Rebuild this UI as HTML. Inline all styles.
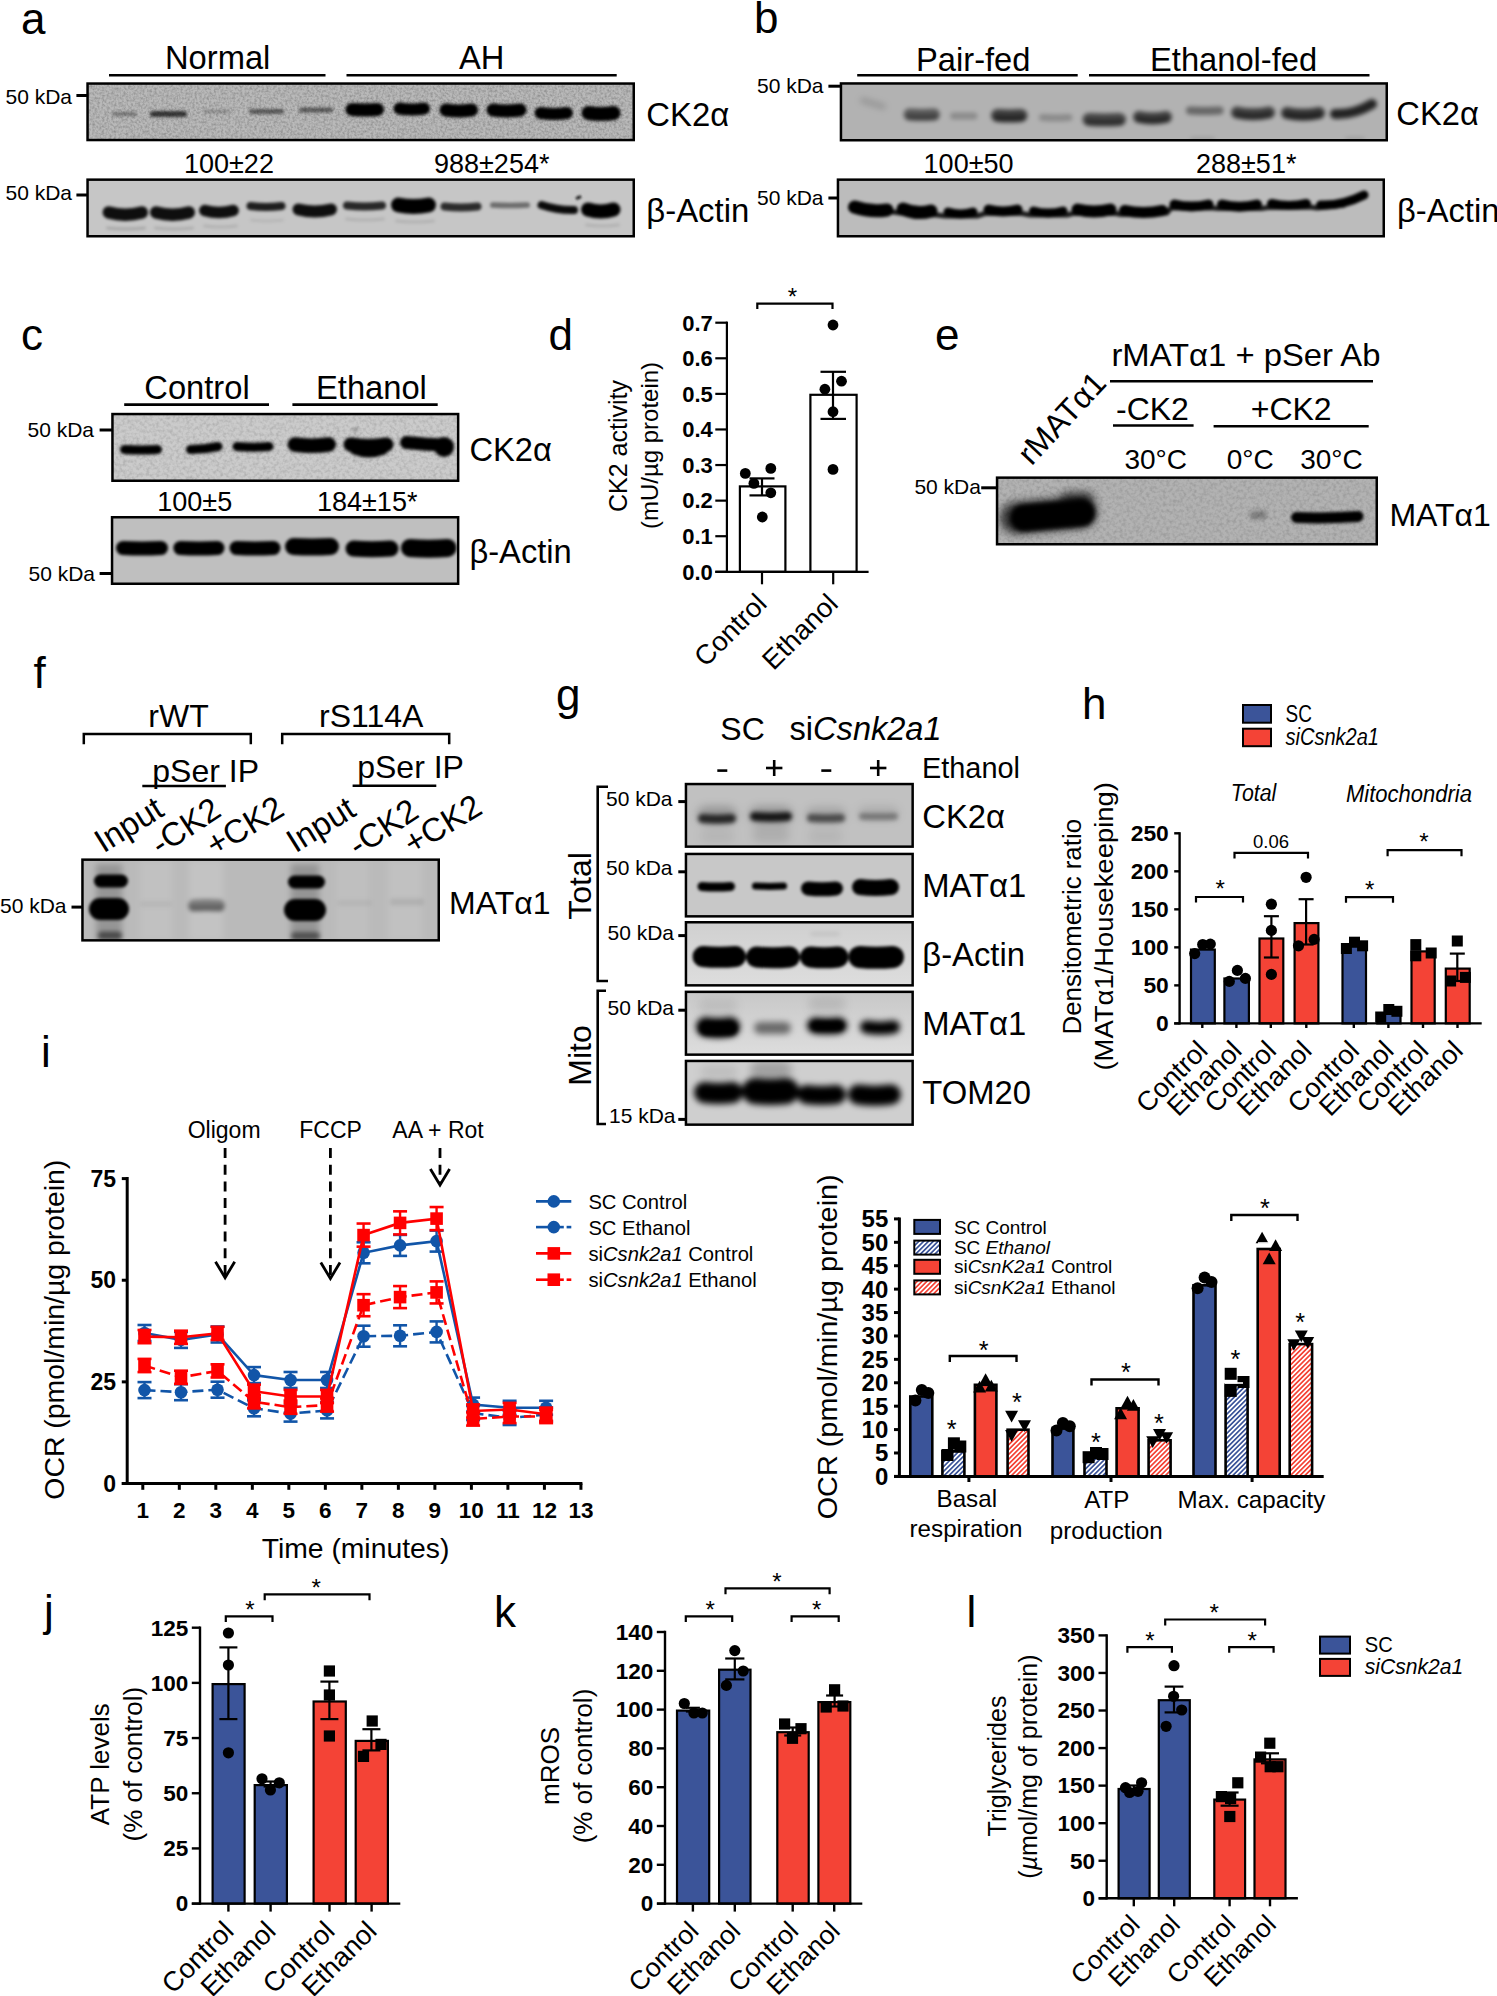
<!DOCTYPE html>
<html><head><meta charset="utf-8"><title>Figure</title>
<style>
html,body{margin:0;padding:0;background:#fff;overflow:hidden;}
svg{display:block;font-family:"Liberation Sans",sans-serif;}
text{fill:#000;}
</style></head><body>
<svg width="1497" height="1996" viewBox="0 0 1497 1996">
<defs>
<filter id="b08" x="-20%" y="-100%" width="140%" height="300%"><feGaussianBlur stdDeviation="0.8"/></filter>
<filter id="b10" x="-20%" y="-100%" width="140%" height="300%"><feGaussianBlur stdDeviation="1.0"/></filter>
<filter id="b16" x="-20%" y="-100%" width="140%" height="300%"><feGaussianBlur stdDeviation="1.6"/></filter>
<filter id="b22" x="-20%" y="-100%" width="140%" height="300%"><feGaussianBlur stdDeviation="2.2"/></filter>
<filter id="b30" x="-30%" y="-150%" width="160%" height="400%"><feGaussianBlur stdDeviation="3.0"/></filter>
<filter id="b40" x="-30%" y="-150%" width="160%" height="400%"><feGaussianBlur stdDeviation="4.0"/></filter>
<filter id="nz" x="0" y="0" width="100%" height="100%"><feTurbulence type="fractalNoise" baseFrequency="0.42" numOctaves="2" seed="3"/><feColorMatrix type="matrix" values="0 0 0 0 0  0 0 0 0 0  0 0 0 0 0  0.42 0 0 0 -0.15"/></filter>
<filter id="nz2" x="0" y="0" width="100%" height="100%"><feTurbulence type="fractalNoise" baseFrequency="0.3" numOctaves="2" seed="7"/><feColorMatrix type="matrix" values="0 0 0 0 0  0 0 0 0 0  0 0 0 0 0  0.28 0 0 0 -0.11"/></filter>
<pattern id="hb" width="3.4" height="3.4" patternUnits="userSpaceOnUse" patternTransform="rotate(-45)"><rect width="3.4" height="3.4" fill="#fff"/><rect width="3.4" height="1.7" fill="#3b5499"/></pattern>
<pattern id="hr" width="3.4" height="3.4" patternUnits="userSpaceOnUse" patternTransform="rotate(-45)"><rect width="3.4" height="3.4" fill="#fff"/><rect width="3.4" height="1.7" fill="#f44336"/></pattern>
<linearGradient id="g3g" x1="0" y1="0" x2="0" y2="1"><stop offset="0" stop-color="#d0d0d0"/><stop offset="1" stop-color="#dddddd"/></linearGradient>
<linearGradient id="g4g" x1="0" y1="0" x2="0" y2="1"><stop offset="0" stop-color="#c8c8c8"/><stop offset="1" stop-color="#dddddd"/></linearGradient>
</defs>
<rect width="1497" height="1996" fill="#fff"/>
<text font-size="44" x="21.00" y="33.50">a</text>
<text font-size="32.7" x="165.00" y="69.00">Normal</text>
<line x1="109.00" y1="75.30" x2="325.50" y2="75.30" stroke="#000" stroke-width="2.6"/>
<text font-size="32.7" x="459.00" y="69.00">AH</text>
<line x1="346.50" y1="75.30" x2="616.70" y2="75.30" stroke="#000" stroke-width="2.6"/>
<text font-size="21" x="5.50" y="103.50">50 kDa</text>
<line x1="76.40" y1="95.50" x2="87.00" y2="95.50" stroke="#000" stroke-width="3"/>
<text font-size="21" x="5.50" y="200.40">50 kDa</text>
<line x1="76.40" y1="195.00" x2="87.00" y2="195.00" stroke="#000" stroke-width="3"/>
<clipPath id="c1"><rect x="87.55" y="83.55" width="546.20" height="56.50"/></clipPath>
<rect x="87.55" y="83.55" width="546.20" height="56.50" fill="#b9b9b9"/>
<g clip-path="url(#c1)">
<filter id="f1_1_6" filterUnits="userSpaceOnUse" x="77.5" y="73.5" width="566.2" height="76.5"><feGaussianBlur stdDeviation="1.6"/></filter>
<g filter="url(#f1_1_6)">
<path d="M114.0,114.0 Q124.5,114.0 135.0,114.0" stroke="#000" stroke-opacity="0.35" stroke-width="4" stroke-linecap="round" fill="none"/>
<path d="M153.0,114.0 Q168.5,114.0 184.0,114.0" stroke="#000" stroke-opacity="0.7" stroke-width="6" stroke-linecap="round" fill="none"/>
<path d="M204.8,111.5 Q216.5,111.5 228.2,111.5" stroke="#000" stroke-opacity="0.22" stroke-width="3.5" stroke-linecap="round" fill="none"/>
<path d="M251.5,111.5 Q266.5,111.5 281.5,111.5" stroke="#000" stroke-opacity="0.5" stroke-width="5" stroke-linecap="round" fill="none"/>
<path d="M301.5,110.0 Q316.0,110.0 330.5,110.0" stroke="#000" stroke-opacity="0.5" stroke-width="5" stroke-linecap="round" fill="none"/>
<path d="M352.0,109.5 Q364.8,110.5 377.5,109.5" stroke="#000" stroke-opacity="1" stroke-width="13" stroke-linecap="round" fill="none"/>
<path d="M399.5,108.5 Q411.8,110.5 424.0,108.5" stroke="#000" stroke-opacity="1" stroke-width="12" stroke-linecap="round" fill="none"/>
<path d="M446.0,110.0 Q458.8,112.0 471.5,110.0" stroke="#000" stroke-opacity="1" stroke-width="13" stroke-linecap="round" fill="none"/>
<path d="M493.0,110.0 Q506.5,112.0 520.0,110.0" stroke="#000" stroke-opacity="1" stroke-width="13" stroke-linecap="round" fill="none"/>
<path d="M540.5,113.0 Q553.8,115.0 567.0,113.0" stroke="#000" stroke-opacity="1" stroke-width="12" stroke-linecap="round" fill="none"/>
<path d="M588.5,113.0 Q601.0,115.0 613.5,113.0" stroke="#000" stroke-opacity="1" stroke-width="14" stroke-linecap="round" fill="none"/>
</g>
<rect x="87.55" y="83.55" width="546.20" height="56.50" filter="url(#nz)"/>
</g>
<rect x="87.55" y="83.55" width="546.20" height="56.50" fill="none" stroke="#000" stroke-width="2.5"/>
<text font-size="27" x="184.00" y="172.80">100±22</text>
<text font-size="27" x="434.00" y="172.80">988±254*</text>
<clipPath id="c2"><rect x="87.55" y="179.65" width="546.20" height="56.60"/></clipPath>
<rect x="87.55" y="179.65" width="546.20" height="56.60" fill="#c6c6c6"/>
<g clip-path="url(#c2)">
<filter id="f2_1_6" filterUnits="userSpaceOnUse" x="77.5" y="169.7" width="566.2" height="76.6"><feGaussianBlur stdDeviation="1.6"/></filter>
<g filter="url(#f2_1_6)">
<path d="M108.8,212.5 Q125.2,216.9 141.8,212.5" stroke="#000" stroke-opacity="0.93" stroke-width="12.5" stroke-linecap="round" fill="none"/>
<path d="M156.2,212.5 Q172.5,216.9 188.8,212.5" stroke="#000" stroke-opacity="0.93" stroke-width="12.5" stroke-linecap="round" fill="none"/>
<path d="M204.8,210.5 Q219.0,214.5 233.2,210.5" stroke="#000" stroke-opacity="0.93" stroke-width="11.5" stroke-linecap="round" fill="none"/>
<path d="M250.5,206.0 Q266.0,208.0 281.5,206.0" stroke="#000" stroke-opacity="0.85" stroke-width="8" stroke-linecap="round" fill="none"/>
<path d="M298.5,209.5 Q314.8,213.5 331.0,209.5" stroke="#000" stroke-opacity="0.93" stroke-width="12" stroke-linecap="round" fill="none"/>
<path d="M347.0,205.5 Q364.5,207.5 382.0,205.5" stroke="#000" stroke-opacity="0.8" stroke-width="8" stroke-linecap="round" fill="none"/>
<path d="M398.5,205.0 Q413.5,208.0 428.5,205.0" stroke="#000" stroke-opacity="1" stroke-width="15" stroke-linecap="round" fill="none"/>
<path d="M444.5,206.5 Q461.0,208.5 477.5,206.5" stroke="#000" stroke-opacity="0.78" stroke-width="8" stroke-linecap="round" fill="none"/>
<path d="M492.8,205.0 Q510.0,206.0 527.2,205.0" stroke="#000" stroke-opacity="0.45" stroke-width="5.5" stroke-linecap="round" fill="none"/>
<path d="M541.5,205.0 Q557.8,210.5 574.0,210.0" stroke="#000" stroke-opacity="0.95" stroke-width="8" stroke-linecap="round" fill="none"/>
<path d="M588.0,209.5 Q600.8,213.5 613.5,209.5" stroke="#000" stroke-opacity="1" stroke-width="14" stroke-linecap="round" fill="none"/>
<path d="M107.5,228.0 Q126.0,230.0 144.5,228.0" stroke="#000" stroke-opacity="0.15" stroke-width="3" stroke-linecap="round" fill="none"/>
<path d="M155.5,228.0 Q174.0,230.0 192.5,228.0" stroke="#000" stroke-opacity="0.12" stroke-width="3" stroke-linecap="round" fill="none"/>
<path d="M204.5,226.0 Q220.5,228.0 236.5,226.0" stroke="#000" stroke-opacity="0.1" stroke-width="3" stroke-linecap="round" fill="none"/>
<path d="M251.5,220.0 Q267.0,222.0 282.5,220.0" stroke="#000" stroke-opacity="0.08" stroke-width="3" stroke-linecap="round" fill="none"/>
<path d="M346.5,219.0 Q365.0,221.0 383.5,219.0" stroke="#000" stroke-opacity="0.1" stroke-width="3" stroke-linecap="round" fill="none"/>
<path d="M396.5,221.0 Q415.0,223.0 433.5,221.0" stroke="#000" stroke-opacity="0.1" stroke-width="3" stroke-linecap="round" fill="none"/>
<path d="M586.5,225.0 Q602.5,227.0 618.5,225.0" stroke="#000" stroke-opacity="0.1" stroke-width="3" stroke-linecap="round" fill="none"/>
</g>
</g>
<rect x="87.55" y="179.65" width="546.20" height="56.60" fill="none" stroke="#000" stroke-width="2.5"/>
<ellipse cx="578.5" cy="197.5" rx="3.2" ry="1.8" fill="#2a2a2a" transform="rotate(-25 578.5 197.5)" filter="url(#b08)"/>
<text font-size="32.9" x="646.30" y="126.00">CK2α</text>
<text font-size="32.9" x="646.30" y="222.20">β-Actin</text>
<text font-size="44" x="754.00" y="33.00">b</text>
<text font-size="32.7" x="916.00" y="71.40">Pair-fed</text>
<line x1="857.20" y1="75.30" x2="1077.70" y2="75.30" stroke="#000" stroke-width="2.6"/>
<text font-size="32.7" x="1150.00" y="71.40">Ethanol-fed</text>
<line x1="1089.00" y1="75.30" x2="1369.50" y2="75.30" stroke="#000" stroke-width="2.6"/>
<text font-size="21" x="757.00" y="93.40">50 kDa</text>
<line x1="828.40" y1="86.20" x2="840.50" y2="86.20" stroke="#000" stroke-width="3"/>
<text font-size="21" x="757.00" y="205.40">50 kDa</text>
<line x1="828.40" y1="198.00" x2="837.50" y2="198.00" stroke="#000" stroke-width="3"/>
<clipPath id="c3"><rect x="840.95" y="83.45" width="545.80" height="56.80"/></clipPath>
<rect x="840.95" y="83.45" width="545.80" height="56.80" fill="#b2b2b2"/>
<g clip-path="url(#c3)">
<filter id="f3_3_0" filterUnits="userSpaceOnUse" x="831.0" y="73.5" width="565.8" height="76.8"><feGaussianBlur stdDeviation="3.0"/></filter>
<g filter="url(#f3_3_0)">
<path d="M863.0,100.5 Q873.0,103.5 883.0,106.5" stroke="#000" stroke-opacity="0.16" stroke-width="6" stroke-linecap="round" fill="none"/>
</g>
<filter id="f3_2_2" filterUnits="userSpaceOnUse" x="831.0" y="73.5" width="565.8" height="76.8"><feGaussianBlur stdDeviation="2.2"/></filter>
<g filter="url(#f3_2_2)">
<path d="M909.5,114.5 Q921.8,115.5 934.0,114.5" stroke="#000" stroke-opacity="0.5" stroke-width="12" stroke-linecap="round" fill="none"/>
<path d="M908.5,117.0 Q922.0,118.0 935.5,117.0" stroke="#000" stroke-opacity="0.3" stroke-width="5" stroke-linecap="round" fill="none"/>
<path d="M953.5,116.0 Q963.8,116.0 974.0,116.0" stroke="#000" stroke-opacity="0.22" stroke-width="7" stroke-linecap="round" fill="none"/>
<path d="M997.5,115.5 Q1009.2,116.5 1021.0,115.5" stroke="#000" stroke-opacity="0.65" stroke-width="13" stroke-linecap="round" fill="none"/>
<path d="M997.0,118.0 Q1009.5,119.0 1022.0,118.0" stroke="#000" stroke-opacity="0.4" stroke-width="6" stroke-linecap="round" fill="none"/>
<path d="M1042.5,117.5 Q1055.8,118.5 1069.0,117.5" stroke="#000" stroke-opacity="0.22" stroke-width="7" stroke-linecap="round" fill="none"/>
<path d="M1089.0,119.5 Q1104.2,120.5 1119.5,119.5" stroke="#000" stroke-opacity="0.6" stroke-width="13" stroke-linecap="round" fill="none"/>
<path d="M1088.0,122.0 Q1104.5,123.0 1121.0,122.0" stroke="#000" stroke-opacity="0.35" stroke-width="6" stroke-linecap="round" fill="none"/>
<path d="M1139.0,117.0 Q1152.5,120.0 1166.0,117.0" stroke="#000" stroke-opacity="0.65" stroke-width="12" stroke-linecap="round" fill="none"/>
<path d="M1138.5,119.5 Q1152.5,122.5 1166.5,119.5" stroke="#000" stroke-opacity="0.4" stroke-width="5" stroke-linecap="round" fill="none"/>
<path d="M1190.0,110.5 Q1204.8,111.5 1219.5,110.5" stroke="#000" stroke-opacity="0.42" stroke-width="8" stroke-linecap="round" fill="none"/>
<path d="M1237.0,112.5 Q1253.0,116.1 1269.0,112.5" stroke="#000" stroke-opacity="0.65" stroke-width="12" stroke-linecap="round" fill="none"/>
<path d="M1236.5,115.0 Q1253.0,118.6 1269.5,115.0" stroke="#000" stroke-opacity="0.4" stroke-width="5" stroke-linecap="round" fill="none"/>
<path d="M1287.0,113.0 Q1303.0,116.6 1319.0,113.0" stroke="#000" stroke-opacity="0.7" stroke-width="12" stroke-linecap="round" fill="none"/>
<path d="M1286.5,115.5 Q1303.0,119.1 1319.5,115.5" stroke="#000" stroke-opacity="0.4" stroke-width="5" stroke-linecap="round" fill="none"/>
<path d="M1335.0,114.0 Q1353.5,115.0 1372.0,104.0" stroke="#000" stroke-opacity="0.8" stroke-width="10" stroke-linecap="round" fill="none"/>
<path d="M1192.0,139.0 Q1202.5,139.0 1213.0,139.0" stroke="#000" stroke-opacity="0.12" stroke-width="4" stroke-linecap="round" fill="none"/>
<path d="M1347.0,139.0 Q1355.0,139.0 1363.0,139.0" stroke="#000" stroke-opacity="0.12" stroke-width="4" stroke-linecap="round" fill="none"/>
</g>
</g>
<rect x="840.95" y="83.45" width="545.80" height="56.80" fill="none" stroke="#000" stroke-width="2.5"/>
<text font-size="27" x="923.60" y="172.80">100±50</text>
<text font-size="27" x="1196.00" y="172.80">288±51*</text>
<clipPath id="c4"><rect x="837.95" y="179.65" width="545.80" height="56.60"/></clipPath>
<rect x="837.95" y="179.65" width="545.80" height="56.60" fill="#bcbcbc"/>
<g clip-path="url(#c4)">
<filter id="f4_1_6" filterUnits="userSpaceOnUse" x="828.0" y="169.7" width="565.8" height="76.6"><feGaussianBlur stdDeviation="1.6"/></filter>
<g filter="url(#f4_1_6)">
<path d="M854.5,207.0 Q870.8,212.5 887.0,210.0" stroke="#000" stroke-opacity="1" stroke-width="13" stroke-linecap="round" fill="none"/>
<path d="M903.0,209.0 Q917.0,215.0 931.0,211.0" stroke="#000" stroke-opacity="1" stroke-width="13" stroke-linecap="round" fill="none"/>
<path d="M948.0,212.0 Q960.5,216.0 973.0,212.0" stroke="#000" stroke-opacity="1" stroke-width="9" stroke-linecap="round" fill="none"/>
<path d="M988.5,209.5 Q1003.0,213.5 1017.5,209.5" stroke="#000" stroke-opacity="1" stroke-width="10" stroke-linecap="round" fill="none"/>
<path d="M1033.5,211.0 Q1048.2,215.0 1063.0,211.0" stroke="#000" stroke-opacity="1" stroke-width="9" stroke-linecap="round" fill="none"/>
<path d="M1077.5,209.5 Q1094.0,213.5 1110.5,209.5" stroke="#000" stroke-opacity="1" stroke-width="12" stroke-linecap="round" fill="none"/>
<path d="M1124.5,210.5 Q1143.5,214.5 1162.5,210.5" stroke="#000" stroke-opacity="1" stroke-width="11" stroke-linecap="round" fill="none"/>
<path d="M1174.5,204.5 Q1191.5,208.5 1208.5,204.5" stroke="#000" stroke-opacity="1" stroke-width="10" stroke-linecap="round" fill="none"/>
<path d="M1222.0,204.5 Q1239.5,208.9 1257.0,204.5" stroke="#000" stroke-opacity="1" stroke-width="10" stroke-linecap="round" fill="none"/>
<path d="M1271.5,203.5 Q1289.0,207.5 1306.5,203.5" stroke="#000" stroke-opacity="1" stroke-width="9" stroke-linecap="round" fill="none"/>
<path d="M1320.5,205.0 Q1342.2,206.0 1364.0,195.0" stroke="#000" stroke-opacity="1" stroke-width="9" stroke-linecap="round" fill="none"/>
<path d="M852,208 L893,212 L900,213 L937,215 L945,216 L977,216 L985,213.5 L1022,213.5 L1030,215 L1067,215 L1073,213.5 L1116,213.5 L1121,214.5 L1167,213 L1171,208 L1213,208 L1218,208.5 L1261,208.5 L1268,207.5 L1310,207 L1317,208 L1345,205" stroke="#000" stroke-opacity=".85" stroke-width="5" fill="none" stroke-linejoin="round"/>
</g>
</g>
<rect x="837.95" y="179.65" width="545.80" height="56.60" fill="none" stroke="#000" stroke-width="2.5"/>
<text font-size="32.7" x="1396.30" y="125.20">CK2α</text>
<text font-size="32.7" x="1397.00" y="222.00">β-Actin</text>
<text font-size="44" x="21.00" y="350.30">c</text>
<text font-size="32.7" x="144.30" y="399.20">Control</text>
<line x1="124.20" y1="404.70" x2="269.00" y2="404.70" stroke="#000" stroke-width="2.8"/>
<text font-size="32.7" x="316.00" y="399.20">Ethanol</text>
<line x1="292.40" y1="404.70" x2="437.70" y2="404.70" stroke="#000" stroke-width="2.8"/>
<text font-size="21" x="27.50" y="436.90">50 kDa</text>
<line x1="99.60" y1="430.00" x2="112.00" y2="430.00" stroke="#000" stroke-width="3"/>
<text font-size="21" x="28.50" y="580.60">50 kDa</text>
<line x1="99.60" y1="573.50" x2="112.00" y2="573.50" stroke="#000" stroke-width="3"/>
<clipPath id="c5"><rect x="112.45" y="414.05" width="345.70" height="66.70"/></clipPath>
<rect x="112.45" y="414.05" width="345.70" height="66.70" fill="#cbcbcb"/>
<g clip-path="url(#c5)">
<filter id="f5_1_6" filterUnits="userSpaceOnUse" x="102.5" y="404.1" width="365.7" height="86.7"><feGaussianBlur stdDeviation="1.6"/></filter>
<g filter="url(#f5_1_6)">
<path d="M124.5,449.5 Q141.0,450.5 157.5,449.5" stroke="#000" stroke-opacity="1" stroke-width="9" stroke-linecap="round" fill="none"/>
<path d="M190.5,449.5 Q204.2,449.6 218.0,446.5" stroke="#000" stroke-opacity="1" stroke-width="9" stroke-linecap="round" fill="none"/>
<path d="M237.0,446.5 Q253.0,448.1 269.0,446.5" stroke="#000" stroke-opacity="1" stroke-width="9" stroke-linecap="round" fill="none"/>
<path d="M294.8,444.5 Q311.8,446.9 328.8,444.5" stroke="#000" stroke-opacity="1" stroke-width="14.5" stroke-linecap="round" fill="none"/>
<path d="M350.5,444.5 Q368.5,447.5 386.5,444.5" stroke="#000" stroke-opacity="1" stroke-width="14" stroke-linecap="round" fill="none"/>
<path d="M356.0,448.0 Q369.0,453.0 382.0,448.0" stroke="#000" stroke-opacity="1" stroke-width="14" stroke-linecap="round" fill="none"/>
<path d="M406.5,442.5 Q426.8,444.9 447.0,445.0" stroke="#000" stroke-opacity="1" stroke-width="13" stroke-linecap="round" fill="none"/>
<path d="M444.0,447.0 Q444.0,447.0 444.0,447.0" stroke="#000" stroke-opacity="1" stroke-width="20" stroke-linecap="round" fill="none"/>
<path d="M354.0,430.0 Q355.2,430.0 356.5,430.0" stroke="#000" stroke-opacity="0.35" stroke-width="3" stroke-linecap="round" fill="none"/>
</g>
<rect x="112.45" y="414.05" width="345.70" height="66.70" filter="url(#nz2)"/>
</g>
<rect x="112.45" y="414.05" width="345.70" height="66.70" fill="none" stroke="#000" stroke-width="2.5"/>
<text font-size="27" x="157.30" y="511.00">100±5</text>
<text font-size="27" x="317.00" y="511.00">184±15*</text>
<clipPath id="c6"><rect x="112.05" y="517.25" width="346.10" height="66.50"/></clipPath>
<rect x="112.05" y="517.25" width="346.10" height="66.50" fill="#bfbfbf"/>
<g clip-path="url(#c6)">
<filter id="f6_1_6" filterUnits="userSpaceOnUse" x="102.0" y="507.2" width="366.1" height="86.5"><feGaussianBlur stdDeviation="1.6"/></filter>
<g filter="url(#f6_1_6)">
<path d="M123.0,548.0 Q142.0,549.0 161.0,548.0" stroke="#000" stroke-opacity="1" stroke-width="14" stroke-linecap="round" fill="none"/>
<path d="M180.3,548.0 Q198.9,549.0 217.5,548.0" stroke="#000" stroke-opacity="1" stroke-width="14" stroke-linecap="round" fill="none"/>
<path d="M236.5,548.0 Q255.0,549.0 273.5,548.0" stroke="#000" stroke-opacity="1" stroke-width="14" stroke-linecap="round" fill="none"/>
<path d="M293.5,546.5 Q312.0,547.5 330.5,546.5" stroke="#000" stroke-opacity="1" stroke-width="17" stroke-linecap="round" fill="none"/>
<path d="M353.5,548.5 Q372.0,550.1 390.5,548.5" stroke="#000" stroke-opacity="1" stroke-width="16" stroke-linecap="round" fill="none"/>
<path d="M410.0,548.0 Q428.8,549.6 447.5,548.0" stroke="#000" stroke-opacity="1" stroke-width="18" stroke-linecap="round" fill="none"/>
</g>
</g>
<rect x="112.05" y="517.25" width="346.10" height="66.50" fill="none" stroke="#000" stroke-width="2.5"/>
<text font-size="32.7" x="469.40" y="460.60">CK2α</text>
<text font-size="32.7" x="469.40" y="562.50">β-Actin</text>
<text font-size="44" x="548.50" y="350.00">d</text>
<rect x="739.90" y="486.40" width="45.50" height="85.40" fill="#fff" stroke="#000" stroke-width="2.2" />
<rect x="810.40" y="394.80" width="46.20" height="177.00" fill="#fff" stroke="#000" stroke-width="2.2" />
<line x1="726.90" y1="321.60" x2="726.90" y2="572.90" stroke="#000" stroke-width="2.2"/>
<line x1="715.30" y1="571.80" x2="868.60" y2="571.80" stroke="#000" stroke-width="2.2"/>
<line x1="715.30" y1="571.80" x2="726.90" y2="571.80" stroke="#000" stroke-width="2.2"/>
<text font-size="22" text-anchor="end" font-weight="bold" x="712.80" y="579.60">0.0</text>
<line x1="715.30" y1="536.21" x2="726.90" y2="536.21" stroke="#000" stroke-width="2.2"/>
<text font-size="22" text-anchor="end" font-weight="bold" x="712.80" y="544.01">0.1</text>
<line x1="715.30" y1="500.63" x2="726.90" y2="500.63" stroke="#000" stroke-width="2.2"/>
<text font-size="22" text-anchor="end" font-weight="bold" x="712.80" y="508.43">0.2</text>
<line x1="715.30" y1="465.04" x2="726.90" y2="465.04" stroke="#000" stroke-width="2.2"/>
<text font-size="22" text-anchor="end" font-weight="bold" x="712.80" y="472.84">0.3</text>
<line x1="715.30" y1="429.46" x2="726.90" y2="429.46" stroke="#000" stroke-width="2.2"/>
<text font-size="22" text-anchor="end" font-weight="bold" x="712.80" y="437.26">0.4</text>
<line x1="715.30" y1="393.87" x2="726.90" y2="393.87" stroke="#000" stroke-width="2.2"/>
<text font-size="22" text-anchor="end" font-weight="bold" x="712.80" y="401.67">0.5</text>
<line x1="715.30" y1="358.29" x2="726.90" y2="358.29" stroke="#000" stroke-width="2.2"/>
<text font-size="22" text-anchor="end" font-weight="bold" x="712.80" y="366.09">0.6</text>
<line x1="715.30" y1="322.70" x2="726.90" y2="322.70" stroke="#000" stroke-width="2.2"/>
<text font-size="22" text-anchor="end" font-weight="bold" x="712.80" y="330.50">0.7</text>
<line x1="762.00" y1="571.80" x2="762.00" y2="584.30" stroke="#000" stroke-width="2.2"/>
<line x1="833.20" y1="571.80" x2="833.20" y2="584.30" stroke="#000" stroke-width="2.2"/>
<line x1="762.00" y1="478.40" x2="762.00" y2="495.40" stroke="#000" stroke-width="2.2"/>
<line x1="749.50" y1="478.40" x2="774.50" y2="478.40" stroke="#000" stroke-width="2.2"/>
<line x1="749.50" y1="495.40" x2="774.50" y2="495.40" stroke="#000" stroke-width="2.2"/>
<line x1="833.00" y1="371.80" x2="833.00" y2="418.90" stroke="#000" stroke-width="2.2"/>
<line x1="820.50" y1="371.80" x2="846.00" y2="371.80" stroke="#000" stroke-width="2.2"/>
<line x1="820.50" y1="418.90" x2="846.00" y2="418.90" stroke="#000" stroke-width="2.2"/>
<circle cx="745.30" cy="473.40" r="5.4" fill="#000"/>
<circle cx="770.80" cy="468.40" r="5.4" fill="#000"/>
<circle cx="753.90" cy="483.40" r="5.4" fill="#000"/>
<circle cx="770.80" cy="492.80" r="5.4" fill="#000"/>
<circle cx="762.30" cy="517.00" r="5.4" fill="#000"/>
<circle cx="833.00" cy="325.00" r="5.4" fill="#000"/>
<circle cx="841.50" cy="381.20" r="5.4" fill="#000"/>
<circle cx="824.90" cy="389.20" r="5.4" fill="#000"/>
<circle cx="833.00" cy="411.70" r="5.4" fill="#000"/>
<circle cx="833.00" cy="469.40" r="5.4" fill="#000"/>
<path d="M757.30,309.10 V303.60 H832.50 V309.10" stroke="#000" stroke-width="2.2" fill="none" />
<text font-size="24.1" text-anchor="middle" x="792.40" y="304.83">*</text>
<text font-size="25" text-anchor="middle" transform="translate(627.00,446.00) rotate(-90)">CK2 activity</text>
<text font-size="24" text-anchor="middle" transform="translate(658.00,445.50) rotate(-90)">(mU/µg protein)</text>
<text font-size="27.5" text-anchor="end" transform="translate(768.30,605.30) rotate(-45)">Control</text>
<text font-size="27.5" text-anchor="end" transform="translate(839.50,605.30) rotate(-45)">Ethanol</text>
<text font-size="44" x="935.00" y="350.00">e</text>
<text font-size="32" textLength="269" lengthAdjust="spacingAndGlyphs" x="1111.40" y="366.00">rMATα1 + pSer Ab</text>
<line x1="1110.00" y1="381.20" x2="1373.00" y2="381.20" stroke="#000" stroke-width="2.6"/>
<text font-size="32" x="1116.00" y="419.60">-CK2</text>
<line x1="1113.00" y1="425.50" x2="1193.60" y2="425.50" stroke="#000" stroke-width="2.6"/>
<text font-size="32" x="1250.70" y="419.80">+CK2</text>
<line x1="1213.60" y1="426.30" x2="1368.70" y2="426.30" stroke="#000" stroke-width="2.6"/>
<text font-size="28" x="1124.40" y="469.30">30°C</text>
<text font-size="28" x="1226.70" y="469.30">0°C</text>
<text font-size="28" x="1300.20" y="469.30">30°C</text>
<text font-size="32" transform="translate(1031.50,466.50) rotate(-47)">rMATα1</text>
<text font-size="21" x="914.40" y="494.40">50 kDa</text>
<line x1="981.20" y1="487.80" x2="996.50" y2="487.80" stroke="#000" stroke-width="3"/>
<clipPath id="c7"><rect x="997.05" y="477.65" width="379.70" height="66.60"/></clipPath>
<rect x="997.05" y="477.65" width="379.70" height="66.60" fill="#b2b2b2"/>
<g clip-path="url(#c7)">
<filter id="f7_4_0" filterUnits="userSpaceOnUse" x="987.0" y="467.6" width="399.7" height="86.6"><feGaussianBlur stdDeviation="4.0"/></filter>
<g filter="url(#f7_4_0)">
<path d="M1016.0,518.0 Q1048.5,515.0 1081.0,512.0" stroke="#000" stroke-opacity="0.7" stroke-width="32" stroke-linecap="round" fill="none"/>
<path d="M1067.0,499.0 Q1077.0,499.0 1087.0,499.0" stroke="#000" stroke-opacity="0.6" stroke-width="14" stroke-linecap="round" fill="none"/>
</g>
<filter id="f7_2_2" filterUnits="userSpaceOnUse" x="987.0" y="467.6" width="399.7" height="86.6"><feGaussianBlur stdDeviation="2.2"/></filter>
<g filter="url(#f7_2_2)">
<path d="M1023.5,518.0 Q1052.5,515.5 1081.5,513.0" stroke="#000" stroke-opacity="1" stroke-width="27" stroke-linecap="round" fill="none"/>
<path d="M1037.0,519.0 Q1060.0,519.0 1083.0,519.0" stroke="#000" stroke-opacity="1" stroke-width="14" stroke-linecap="round" fill="none"/>
<path d="M1254.0,515.0 Q1258.5,515.0 1263.0,515.0" stroke="#000" stroke-opacity="0.3" stroke-width="8" stroke-linecap="round" fill="none"/>
</g>
<filter id="f7_1_6" filterUnits="userSpaceOnUse" x="987.0" y="467.6" width="399.7" height="86.6"><feGaussianBlur stdDeviation="1.6"/></filter>
<g filter="url(#f7_1_6)">
<path d="M1296.5,517.5 Q1327.2,518.6 1358.0,516.5" stroke="#000" stroke-opacity="1" stroke-width="11" stroke-linecap="round" fill="none"/>
</g>
<rect x="997.05" y="477.65" width="379.70" height="66.60" filter="url(#nz2)"/>
</g>
<rect x="997.05" y="477.65" width="379.70" height="66.60" fill="none" stroke="#000" stroke-width="2.5"/>
<text font-size="32" x="1389.40" y="525.50">MATα1</text>
<text font-size="44" x="33.50" y="687.70">f</text>
<text font-size="32" x="148.30" y="727.00">rWT</text>
<path d="M83.8,744.2 V734 H250.8 V744.2" stroke="#000" stroke-width="2.5" fill="none" />
<text font-size="32" x="319.10" y="727.20">rS114A</text>
<path d="M282.2,744.2 V734 H449.2 V744.2" stroke="#000" stroke-width="2.5" fill="none" />
<text font-size="32" x="152.30" y="782.30">pSer IP</text>
<line x1="142.30" y1="785.90" x2="225.90" y2="785.90" stroke="#000" stroke-width="2.5"/>
<text font-size="32" x="357.20" y="777.50">pSer IP</text>
<line x1="352.60" y1="785.70" x2="436.30" y2="785.70" stroke="#000" stroke-width="2.5"/>
<text font-size="33" transform="translate(103.50,853.50) rotate(-32)">Input</text>
<text font-size="33" transform="translate(160.40,856.40) rotate(-33.5)">-CK2</text>
<text font-size="33" transform="translate(214.80,857.10) rotate(-31)">+CK2</text>
<text font-size="33" transform="translate(295.50,853.50) rotate(-32)">Input</text>
<text font-size="33" transform="translate(358.00,857.60) rotate(-33.5)">-CK2</text>
<text font-size="33" transform="translate(412.60,855.60) rotate(-31)">+CK2</text>
<text font-size="21" x="0.00" y="912.50">50 kDa</text>
<line x1="71.50" y1="907.10" x2="82.50" y2="907.10" stroke="#000" stroke-width="3"/>
<clipPath id="c8"><rect x="82.45" y="859.65" width="356.30" height="80.70"/></clipPath>
<rect x="82.45" y="859.65" width="356.30" height="80.70" fill="#bababa"/>
<g clip-path="url(#c8)">
<filter id="f8_3_0" filterUnits="userSpaceOnUse" x="72.5" y="849.6" width="376.3" height="100.7"><feGaussianBlur stdDeviation="3.0"/></filter>
<g filter="url(#f8_3_0)">
<rect x="140.0" y="860" width="32" height="80" fill="#fff" fill-opacity="0.1"/>
<rect x="189.0" y="860" width="34" height="80" fill="#fff" fill-opacity="0.13"/>
<rect x="336.0" y="860" width="32" height="80" fill="#fff" fill-opacity="0.08"/>
<rect x="388.0" y="860" width="34" height="80" fill="#fff" fill-opacity="0.1"/>
<rect x="96.0" y="864" width="26" height="81" fill="#000" fill-opacity="0.2"/>
<rect x="291.0" y="864" width="28" height="81" fill="#000" fill-opacity="0.2"/>
</g>
<filter id="f8_1_6" filterUnits="userSpaceOnUse" x="72.5" y="849.6" width="376.3" height="100.7"><feGaussianBlur stdDeviation="1.6"/></filter>
<g filter="url(#f8_1_6)">
<path d="M100.5,881.0 Q111.0,881.0 121.5,881.0" stroke="#000" stroke-opacity="1" stroke-width="13" stroke-linecap="round" fill="none"/>
<path d="M100.0,909.0 Q109.0,909.0 118.0,909.0" stroke="#000" stroke-opacity="1" stroke-width="22" stroke-linecap="round" fill="none"/>
<path d="M294.5,882.0 Q306.5,882.0 318.5,882.0" stroke="#000" stroke-opacity="1" stroke-width="13" stroke-linecap="round" fill="none"/>
<path d="M295.0,910.0 Q305.0,910.0 315.0,910.0" stroke="#000" stroke-opacity="1" stroke-width="22" stroke-linecap="round" fill="none"/>
</g>
<filter id="f8_2_2" filterUnits="userSpaceOnUse" x="72.5" y="849.6" width="376.3" height="100.7"><feGaussianBlur stdDeviation="2.2"/></filter>
<g filter="url(#f8_2_2)">
<path d="M102.0,935.5 Q110.0,935.5 118.0,935.5" stroke="#000" stroke-opacity="0.5" stroke-width="8" stroke-linecap="round" fill="none"/>
<path d="M194.0,905.5 Q206.5,904.3 219.0,905.5" stroke="#000" stroke-opacity="0.36" stroke-width="12" stroke-linecap="round" fill="none"/>
<path d="M192.0,908.0 Q206.5,908.0 221.0,908.0" stroke="#000" stroke-opacity="0.22" stroke-width="6" stroke-linecap="round" fill="none"/>
<path d="M143.0,904.0 Q156.0,904.0 169.0,904.0" stroke="#000" stroke-opacity="0.05" stroke-width="6" stroke-linecap="round" fill="none"/>
<path d="M295.0,936.0 Q305.5,936.0 316.0,936.0" stroke="#000" stroke-opacity="0.45" stroke-width="8" stroke-linecap="round" fill="none"/>
<path d="M340.0,903.0 Q354.5,903.0 369.0,903.0" stroke="#000" stroke-opacity="0.05" stroke-width="6" stroke-linecap="round" fill="none"/>
<path d="M393.5,902.0 Q407.0,902.0 420.5,902.0" stroke="#000" stroke-opacity="0.09" stroke-width="7" stroke-linecap="round" fill="none"/>
</g>
</g>
<rect x="82.45" y="859.65" width="356.30" height="80.70" fill="none" stroke="#000" stroke-width="2.5"/>
<text font-size="32" x="449.00" y="914.00">MATα1</text>
<text font-size="44" x="556.00" y="710.00">g</text>
<text font-size="32" x="720.30" y="739.60">SC</text>
<text font-size="32.4" textLength="152" lengthAdjust="spacingAndGlyphs" x="789.60" y="739.70">si<tspan font-style="italic">Csnk2a1</tspan></text>
<line x1="717.30" y1="770.60" x2="727.30" y2="770.60" stroke="#000" stroke-width="2.6"/>
<line x1="821.30" y1="770.60" x2="831.30" y2="770.60" stroke="#000" stroke-width="2.6"/>
<line x1="766.00" y1="768.00" x2="782.40" y2="768.00" stroke="#000" stroke-width="2.6"/>
<line x1="774.20" y1="760.00" x2="774.20" y2="776.00" stroke="#000" stroke-width="2.6"/>
<line x1="870.00" y1="768.00" x2="886.40" y2="768.00" stroke="#000" stroke-width="2.6"/>
<line x1="878.20" y1="760.00" x2="878.20" y2="776.00" stroke="#000" stroke-width="2.6"/>
<text font-size="28.9" x="922.00" y="778.20">Ethanol</text>
<path d="M608,786.8 H597.7 V981 H608" stroke="#000" stroke-width="2.6" fill="none" />
<path d="M606,990.8 H597.7 V1124 H606" stroke="#000" stroke-width="2.6" fill="none" />
<text font-size="32" text-anchor="middle" transform="translate(591.00,886.00) rotate(-90)">Total</text>
<text font-size="32" text-anchor="middle" transform="translate(591.00,1055.50) rotate(-90)">Mito</text>
<text font-size="21" x="606.00" y="806.20">50 kDa</text>
<line x1="678.30" y1="801.60" x2="686.50" y2="801.60" stroke="#000" stroke-width="3"/>
<text font-size="21" x="606.00" y="875.40">50 kDa</text>
<line x1="678.30" y1="871.80" x2="686.50" y2="871.80" stroke="#000" stroke-width="3"/>
<text font-size="21" x="607.50" y="940.00">50 kDa</text>
<line x1="678.30" y1="935.60" x2="686.50" y2="935.60" stroke="#000" stroke-width="3"/>
<text font-size="21" x="607.50" y="1014.60">50 kDa</text>
<line x1="678.30" y1="1010.20" x2="686.50" y2="1010.20" stroke="#000" stroke-width="3"/>
<text font-size="21" x="609.00" y="1123.40">15 kDa</text>
<line x1="678.30" y1="1119.40" x2="686.50" y2="1119.40" stroke="#000" stroke-width="3"/>
<clipPath id="c9"><rect x="685.95" y="784.05" width="226.70" height="62.60"/></clipPath>
<rect x="685.95" y="784.05" width="226.70" height="62.60" fill="#c1c1c1"/>
<g clip-path="url(#c9)">
<filter id="f9_2_2" filterUnits="userSpaceOnUse" x="676.0" y="774.0" width="246.7" height="82.6"><feGaussianBlur stdDeviation="2.2"/></filter>
<g filter="url(#f9_2_2)">
<path d="M702.5,818.5 Q717.0,820.1 731.5,818.5" stroke="#000" stroke-opacity="0.75" stroke-width="9" stroke-linecap="round" fill="none"/>
<path d="M754.5,816.5 Q771.0,818.1 787.5,816.5" stroke="#000" stroke-opacity="0.85" stroke-width="9" stroke-linecap="round" fill="none"/>
<path d="M811.0,818.0 Q826.0,819.0 841.0,818.0" stroke="#000" stroke-opacity="0.55" stroke-width="8" stroke-linecap="round" fill="none"/>
<path d="M862.5,816.5 Q878.5,817.1 894.5,816.5" stroke="#000" stroke-opacity="0.33" stroke-width="7" stroke-linecap="round" fill="none"/>
</g>
<filter id="f9_4_0" filterUnits="userSpaceOnUse" x="676.0" y="774.0" width="246.7" height="82.6"><feGaussianBlur stdDeviation="4.0"/></filter>
<g filter="url(#f9_4_0)">
<path d="M706.0,815.0 Q717.0,815.0 728.0,815.0" stroke="#000" stroke-opacity="0.22" stroke-width="18" stroke-linecap="round" fill="none"/>
<path d="M758.0,815.0 Q771.0,815.0 784.0,815.0" stroke="#000" stroke-opacity="0.22" stroke-width="18" stroke-linecap="round" fill="none"/>
<path d="M760.0,834.0 Q771.0,834.0 782.0,834.0" stroke="#000" stroke-opacity="0.1" stroke-width="16" stroke-linecap="round" fill="none"/>
<path d="M707.0,836.0 Q717.5,836.0 728.0,836.0" stroke="#000" stroke-opacity="0.06" stroke-width="14" stroke-linecap="round" fill="none"/>
<path d="M815.0,836.0 Q825.5,836.0 836.0,836.0" stroke="#000" stroke-opacity="0.06" stroke-width="14" stroke-linecap="round" fill="none"/>
<path d="M814.0,815.0 Q826.0,815.0 838.0,815.0" stroke="#000" stroke-opacity="0.15" stroke-width="16" stroke-linecap="round" fill="none"/>
<path d="M865.0,813.0 Q878.5,813.0 892.0,813.0" stroke="#000" stroke-opacity="0.1" stroke-width="14" stroke-linecap="round" fill="none"/>
</g>
</g>
<rect x="685.95" y="784.05" width="226.70" height="62.60" fill="none" stroke="#000" stroke-width="2.5"/>
<clipPath id="c10"><rect x="685.95" y="853.95" width="226.70" height="62.40"/></clipPath>
<rect x="685.95" y="853.95" width="226.70" height="62.40" fill="#c8c8c8"/>
<g clip-path="url(#c10)">
<filter id="f10_1_6" filterUnits="userSpaceOnUse" x="676.0" y="844.0" width="246.7" height="82.4"><feGaussianBlur stdDeviation="1.6"/></filter>
<g filter="url(#f10_1_6)">
<path d="M702.0,886.5 Q716.2,887.7 730.5,886.5" stroke="#000" stroke-opacity="1" stroke-width="9" stroke-linecap="round" fill="none"/>
<path d="M755.5,886.0 Q769.5,886.8 783.5,886.0" stroke="#000" stroke-opacity="1" stroke-width="7" stroke-linecap="round" fill="none"/>
<path d="M808.0,888.5 Q822.0,890.1 836.0,888.5" stroke="#000" stroke-opacity="1" stroke-width="14" stroke-linecap="round" fill="none"/>
<path d="M860.0,887.0 Q875.5,889.0 891.0,887.0" stroke="#000" stroke-opacity="1" stroke-width="16" stroke-linecap="round" fill="none"/>
</g>
</g>
<rect x="685.95" y="853.95" width="226.70" height="62.40" fill="none" stroke="#000" stroke-width="2.5"/>
<clipPath id="c11"><rect x="685.95" y="922.25" width="226.70" height="63.10"/></clipPath>
<rect x="685.95" y="922.25" width="226.70" height="63.10" fill="url(#g3g)"/>
<g clip-path="url(#c11)">
<filter id="f11_1_6" filterUnits="userSpaceOnUse" x="676.0" y="912.2" width="246.7" height="83.1"><feGaussianBlur stdDeviation="1.6"/></filter>
<g filter="url(#f11_1_6)">
<path d="M703.0,956.5 Q719.2,958.1 735.5,956.5" stroke="#000" stroke-opacity="1" stroke-width="21" stroke-linecap="round" fill="none"/>
<path d="M756.5,957.0 Q773.0,958.6 789.5,957.0" stroke="#000" stroke-opacity="1" stroke-width="21" stroke-linecap="round" fill="none"/>
<path d="M810.5,957.0 Q824.2,958.6 838.0,957.0" stroke="#000" stroke-opacity="1" stroke-width="21" stroke-linecap="round" fill="none"/>
<path d="M859.5,957.0 Q876.2,958.6 893.0,957.0" stroke="#000" stroke-opacity="1" stroke-width="22" stroke-linecap="round" fill="none"/>
</g>
<filter id="f11_2_2" filterUnits="userSpaceOnUse" x="676.0" y="912.2" width="246.7" height="83.1"><feGaussianBlur stdDeviation="2.2"/></filter>
<g filter="url(#f11_2_2)">
<path d="M812.0,934.0 Q825.0,934.0 838.0,934.0" stroke="#000" stroke-opacity="0.08" stroke-width="4" stroke-linecap="round" fill="none"/>
</g>
</g>
<rect x="685.95" y="922.25" width="226.70" height="63.10" fill="none" stroke="#000" stroke-width="2.5"/>
<clipPath id="c12"><rect x="685.95" y="991.85" width="226.70" height="62.80"/></clipPath>
<rect x="685.95" y="991.85" width="226.70" height="62.80" fill="url(#g4g)"/>
<g clip-path="url(#c12)">
<filter id="f12_4_0" filterUnits="userSpaceOnUse" x="676.0" y="981.9" width="246.7" height="82.8"><feGaussianBlur stdDeviation="4.0"/></filter>
<g filter="url(#f12_4_0)">
<path d="M706.0,1006.0 Q718.0,1006.0 730.0,1006.0" stroke="#000" stroke-opacity="0.07" stroke-width="16" stroke-linecap="round" fill="none"/>
<path d="M816.0,1004.0 Q827.0,1004.0 838.0,1004.0" stroke="#000" stroke-opacity="0.09" stroke-width="16" stroke-linecap="round" fill="none"/>
</g>
<filter id="f12_3_0" filterUnits="userSpaceOnUse" x="676.0" y="981.9" width="246.7" height="82.8"><feGaussianBlur stdDeviation="3.0"/></filter>
<g filter="url(#f12_3_0)">
<path d="M706.0,1027.0 Q718.0,1029.0 730.0,1027.0" stroke="#000" stroke-opacity="1" stroke-width="20" stroke-linecap="round" fill="none"/>
<path d="M760.0,1028.0 Q772.5,1028.0 785.0,1028.0" stroke="#000" stroke-opacity="0.5" stroke-width="12" stroke-linecap="round" fill="none"/>
<path d="M815.0,1025.5 Q827.0,1027.1 839.0,1025.5" stroke="#000" stroke-opacity="1" stroke-width="16" stroke-linecap="round" fill="none"/>
<path d="M866.5,1027.0 Q880.0,1029.4 893.5,1027.0" stroke="#000" stroke-opacity="1" stroke-width="13" stroke-linecap="round" fill="none"/>
</g>
<filter id="f12_2_2" filterUnits="userSpaceOnUse" x="676.0" y="981.9" width="246.7" height="82.8"><feGaussianBlur stdDeviation="2.2"/></filter>
<g filter="url(#f12_2_2)">
<path d="M706.0,1029.0 Q718.5,1029.0 731.0,1029.0" stroke="#000" stroke-opacity="1" stroke-width="12" stroke-linecap="round" fill="none"/>
<path d="M816.0,1026.0 Q827.5,1026.0 839.0,1026.0" stroke="#000" stroke-opacity="1" stroke-width="8" stroke-linecap="round" fill="none"/>
</g>
</g>
<rect x="685.95" y="991.85" width="226.70" height="62.80" fill="none" stroke="#000" stroke-width="2.5"/>
<clipPath id="c13"><rect x="685.95" y="1060.95" width="226.70" height="63.70"/></clipPath>
<rect x="685.95" y="1060.95" width="226.70" height="63.70" fill="#cfcfcf"/>
<g clip-path="url(#c13)">
<filter id="f13_3_0" filterUnits="userSpaceOnUse" x="676.0" y="1051.0" width="246.7" height="83.7"><feGaussianBlur stdDeviation="3.0"/></filter>
<g filter="url(#f13_3_0)">
<path d="M704.5,1092.5 Q718.5,1094.5 732.5,1092.5" stroke="#000" stroke-opacity="1" stroke-width="21" stroke-linecap="round" fill="none"/>
<path d="M755.0,1091.0 Q770.5,1093.0 786.0,1091.0" stroke="#000" stroke-opacity="1" stroke-width="26" stroke-linecap="round" fill="none"/>
<path d="M806.5,1094.5 Q821.5,1096.5 836.5,1094.5" stroke="#000" stroke-opacity="1" stroke-width="19" stroke-linecap="round" fill="none"/>
<path d="M858.0,1094.5 Q874.5,1096.9 891.0,1094.5" stroke="#000" stroke-opacity="1" stroke-width="20" stroke-linecap="round" fill="none"/>
</g>
<filter id="f13_4_0" filterUnits="userSpaceOnUse" x="676.0" y="1051.0" width="246.7" height="83.7"><feGaussianBlur stdDeviation="4.0"/></filter>
<g filter="url(#f13_4_0)">
<path d="M759.0,1070.0 Q771.0,1070.0 783.0,1070.0" stroke="#000" stroke-opacity="0.22" stroke-width="18" stroke-linecap="round" fill="none"/>
<path d="M707.0,1072.0 Q719.0,1072.0 731.0,1072.0" stroke="#000" stroke-opacity="0.08" stroke-width="14" stroke-linecap="round" fill="none"/>
</g>
</g>
<rect x="685.95" y="1060.95" width="226.70" height="63.70" fill="none" stroke="#000" stroke-width="2.5"/>
<text font-size="32.8" x="922.30" y="827.80">CK2α</text>
<text font-size="32.8" x="922.30" y="897.40">MATα1</text>
<text font-size="32.8" x="922.30" y="966.30">β-Actin</text>
<text font-size="32.8" x="922.30" y="1035.30">MATα1</text>
<text font-size="32.8" x="922.30" y="1104.00">TOM20</text>
<text font-size="44" x="1082.00" y="719.00">h</text>
<rect x="1243.00" y="705.00" width="28.00" height="17.70" fill="#3b5499" stroke="#000" stroke-width="2" />
<rect x="1243.00" y="728.70" width="28.00" height="17.50" fill="#f44336" stroke="#000" stroke-width="2" />
<text font-size="23" textLength="26.3" lengthAdjust="spacingAndGlyphs" x="1285.50" y="721.60">SC</text>
<text font-size="23" font-style="italic" textLength="93.5" lengthAdjust="spacingAndGlyphs" x="1285.50" y="744.60">siCsnk2a1</text>
<text font-size="23" text-anchor="middle" font-style="italic" textLength="45.5" lengthAdjust="spacingAndGlyphs" x="1253.60" y="801.30">Total</text>
<text font-size="23" text-anchor="middle" font-style="italic" textLength="126" lengthAdjust="spacingAndGlyphs" x="1409.00" y="801.50">Mitochondria</text>
<rect x="1191.00" y="949.60" width="23.80" height="73.80" fill="#3b5499" stroke="#000" stroke-width="2.2" />
<rect x="1224.40" y="978.50" width="24.50" height="44.90" fill="#3b5499" stroke="#000" stroke-width="2.2" />
<rect x="1259.50" y="938.50" width="23.80" height="84.90" fill="#f44336" stroke="#000" stroke-width="2.2" />
<rect x="1294.60" y="923.10" width="23.80" height="100.30" fill="#f44336" stroke="#000" stroke-width="2.2" />
<rect x="1342.50" y="946.10" width="23.50" height="77.30" fill="#3b5499" stroke="#000" stroke-width="2.2" />
<rect x="1377.30" y="1013.70" width="23.20" height="9.70" fill="#3b5499" stroke="#000" stroke-width="2.2" />
<rect x="1411.50" y="951.40" width="23.20" height="72.00" fill="#f44336" stroke="#000" stroke-width="2.2" />
<rect x="1445.80" y="968.60" width="23.90" height="54.80" fill="#f44336" stroke="#000" stroke-width="2.2" />
<line x1="1179.60" y1="832.20" x2="1179.60" y2="1024.50" stroke="#000" stroke-width="2.4"/>
<line x1="1174.20" y1="1023.40" x2="1481.70" y2="1023.40" stroke="#000" stroke-width="2.4"/>
<line x1="1174.20" y1="1023.40" x2="1179.60" y2="1023.40" stroke="#000" stroke-width="2.4"/>
<text font-size="22.8" text-anchor="end" font-weight="bold" x="1168.80" y="1031.30">0</text>
<line x1="1174.20" y1="985.38" x2="1179.60" y2="985.38" stroke="#000" stroke-width="2.4"/>
<text font-size="22.8" text-anchor="end" font-weight="bold" x="1168.80" y="993.28">50</text>
<line x1="1174.20" y1="947.36" x2="1179.60" y2="947.36" stroke="#000" stroke-width="2.4"/>
<text font-size="22.8" text-anchor="end" font-weight="bold" x="1168.80" y="955.26">100</text>
<line x1="1174.20" y1="909.34" x2="1179.60" y2="909.34" stroke="#000" stroke-width="2.4"/>
<text font-size="22.8" text-anchor="end" font-weight="bold" x="1168.80" y="917.24">150</text>
<line x1="1174.20" y1="871.32" x2="1179.60" y2="871.32" stroke="#000" stroke-width="2.4"/>
<text font-size="22.8" text-anchor="end" font-weight="bold" x="1168.80" y="879.22">200</text>
<line x1="1174.20" y1="833.30" x2="1179.60" y2="833.30" stroke="#000" stroke-width="2.4"/>
<text font-size="22.8" text-anchor="end" font-weight="bold" x="1168.80" y="841.20">250</text>
<line x1="1202.30" y1="1023.40" x2="1202.30" y2="1028.00" stroke="#000" stroke-width="2.4"/>
<line x1="1236.40" y1="1023.40" x2="1236.40" y2="1028.00" stroke="#000" stroke-width="2.4"/>
<line x1="1270.80" y1="1023.40" x2="1270.80" y2="1028.00" stroke="#000" stroke-width="2.4"/>
<line x1="1306.30" y1="1023.40" x2="1306.30" y2="1028.00" stroke="#000" stroke-width="2.4"/>
<line x1="1353.80" y1="1023.40" x2="1353.80" y2="1028.00" stroke="#000" stroke-width="2.4"/>
<line x1="1388.40" y1="1023.40" x2="1388.40" y2="1028.00" stroke="#000" stroke-width="2.4"/>
<line x1="1423.00" y1="1023.40" x2="1423.00" y2="1028.00" stroke="#000" stroke-width="2.4"/>
<line x1="1457.50" y1="1023.40" x2="1457.50" y2="1028.00" stroke="#000" stroke-width="2.4"/>
<line x1="1271.40" y1="916.20" x2="1271.40" y2="957.50" stroke="#000" stroke-width="2.2"/>
<line x1="1263.90" y1="916.20" x2="1278.90" y2="916.20" stroke="#000" stroke-width="2.2"/>
<line x1="1263.90" y1="957.50" x2="1278.90" y2="957.50" stroke="#000" stroke-width="2.2"/>
<line x1="1306.10" y1="899.20" x2="1306.10" y2="944.50" stroke="#000" stroke-width="2.2"/>
<line x1="1298.60" y1="899.20" x2="1313.60" y2="899.20" stroke="#000" stroke-width="2.2"/>
<line x1="1298.60" y1="944.50" x2="1313.60" y2="944.50" stroke="#000" stroke-width="2.2"/>
<line x1="1457.30" y1="953.60" x2="1457.30" y2="981.00" stroke="#000" stroke-width="2.2"/>
<line x1="1449.80" y1="953.60" x2="1464.80" y2="953.60" stroke="#000" stroke-width="2.2"/>
<line x1="1449.80" y1="981.00" x2="1464.80" y2="981.00" stroke="#000" stroke-width="2.2"/>
<circle cx="1194.70" cy="953.60" r="5.6" fill="#000"/>
<circle cx="1202.70" cy="944.50" r="5.6" fill="#000"/>
<circle cx="1210.30" cy="944.10" r="5.6" fill="#000"/>
<circle cx="1229.30" cy="981.40" r="5.6" fill="#000"/>
<circle cx="1237.40" cy="970.40" r="5.6" fill="#000"/>
<circle cx="1245.40" cy="978.40" r="5.6" fill="#000"/>
<circle cx="1271.40" cy="904.20" r="5.6" fill="#000"/>
<circle cx="1271.40" cy="930.40" r="5.6" fill="#000"/>
<circle cx="1271.40" cy="974.40" r="5.6" fill="#000"/>
<circle cx="1306.10" cy="877.30" r="5.6" fill="#000"/>
<circle cx="1298.50" cy="945.80" r="5.6" fill="#000"/>
<circle cx="1314.10" cy="939.40" r="5.6" fill="#000"/>
<rect x="1340.90" y="943.00" width="11" height="11" fill="#000"/>
<rect x="1349.00" y="936.70" width="11" height="11" fill="#000"/>
<rect x="1357.10" y="940.30" width="11" height="11" fill="#000"/>
<rect x="1375.20" y="1011.50" width="11" height="11" fill="#000"/>
<rect x="1383.30" y="1004.00" width="11" height="11" fill="#000"/>
<rect x="1391.40" y="1005.80" width="11" height="11" fill="#000"/>
<rect x="1410.30" y="939.10" width="11" height="11" fill="#000"/>
<rect x="1410.30" y="950.30" width="11" height="11" fill="#000"/>
<rect x="1425.70" y="947.50" width="11" height="11" fill="#000"/>
<rect x="1451.80" y="935.50" width="11" height="11" fill="#000"/>
<rect x="1445.10" y="975.50" width="11" height="11" fill="#000"/>
<rect x="1459.90" y="971.90" width="11" height="11" fill="#000"/>
<path d="M1234.50,858.40 V852.90 H1308.00 V858.40" stroke="#000" stroke-width="2.2" fill="none" />
<text font-size="18.5" text-anchor="middle" x="1271.00" y="848.00">0.06</text>
<path d="M1196.00,902.50 V897.00 H1243.00 V902.50" stroke="#000" stroke-width="2.2" fill="none" />
<text font-size="24.1" text-anchor="middle" x="1220.30" y="897.33">*</text>
<path d="M1346.00,902.70 V897.20 H1393.00 V902.70" stroke="#000" stroke-width="2.2" fill="none" />
<text font-size="24.1" text-anchor="middle" x="1369.80" y="897.83">*</text>
<path d="M1387.60,856.20 V850.20 H1461.50 V856.20" stroke="#000" stroke-width="2.2" fill="none" />
<text font-size="24.1" text-anchor="middle" x="1424.00" y="850.33">*</text>
<text font-size="26" text-anchor="middle" textLength="215.5" lengthAdjust="spacingAndGlyphs" transform="translate(1081.00,926.70) rotate(-90)">Densitometric ratio</text>
<text font-size="26" text-anchor="middle" textLength="288.5" lengthAdjust="spacingAndGlyphs" transform="translate(1113.00,926.30) rotate(-90)">(MATα1/Housekeeping)</text>
<text font-size="27.2" text-anchor="end" transform="translate(1209.30,1052.20) rotate(-45)">Control</text>
<text font-size="27.2" text-anchor="end" transform="translate(1243.40,1052.20) rotate(-45)">Ethanol</text>
<text font-size="27.2" text-anchor="end" transform="translate(1277.80,1052.20) rotate(-45)">Control</text>
<text font-size="27.2" text-anchor="end" transform="translate(1313.30,1052.20) rotate(-45)">Ethanol</text>
<text font-size="27.2" text-anchor="end" transform="translate(1360.80,1052.20) rotate(-45)">Control</text>
<text font-size="27.2" text-anchor="end" transform="translate(1395.40,1052.20) rotate(-45)">Ethanol</text>
<text font-size="27.2" text-anchor="end" transform="translate(1430.00,1052.20) rotate(-45)">Control</text>
<text font-size="27.2" text-anchor="end" transform="translate(1464.50,1052.20) rotate(-45)">Ethanol</text>
<text font-size="44" x="41.00" y="1067.30">i</text>
<text font-size="23" x="187.70" y="1137.60">Oligom</text>
<text font-size="23" x="299.30" y="1137.60">FCCP</text>
<text font-size="23" x="392.30" y="1137.60">AA + Rot</text>
<line x1="225.10" y1="1148.00" x2="225.10" y2="1276.70" stroke="#000" stroke-width="2.8" stroke-dasharray="10 6.7"/>
<path d="M215.5,1261.7 L225.1,1277.7 L234.7,1261.7" stroke="#000" stroke-width="2.8" fill="none" />
<line x1="330.40" y1="1148.00" x2="330.40" y2="1277.50" stroke="#000" stroke-width="2.8" stroke-dasharray="10 6.7"/>
<path d="M320.8,1262.5 L330.4,1278.5 L340.0,1262.5" stroke="#000" stroke-width="2.8" fill="none" />
<line x1="440.00" y1="1148.00" x2="440.00" y2="1184.00" stroke="#000" stroke-width="2.8" stroke-dasharray="10 6.7"/>
<path d="M430.4,1169.0 L440.0,1185.0 L449.6,1169.0" stroke="#000" stroke-width="2.8" fill="none" />
<line x1="144.50" y1="1325.00" x2="144.50" y2="1341.00" stroke="#1155a8" stroke-width="2.4"/>
<line x1="137.50" y1="1325.00" x2="151.50" y2="1325.00" stroke="#1155a8" stroke-width="2.6"/>
<line x1="137.50" y1="1341.00" x2="151.50" y2="1341.00" stroke="#1155a8" stroke-width="2.6"/>
<line x1="181.01" y1="1331.90" x2="181.01" y2="1347.90" stroke="#1155a8" stroke-width="2.4"/>
<line x1="174.01" y1="1331.90" x2="188.01" y2="1331.90" stroke="#1155a8" stroke-width="2.6"/>
<line x1="174.01" y1="1347.90" x2="188.01" y2="1347.90" stroke="#1155a8" stroke-width="2.6"/>
<line x1="217.52" y1="1326.50" x2="217.52" y2="1342.50" stroke="#1155a8" stroke-width="2.4"/>
<line x1="210.52" y1="1326.50" x2="224.52" y2="1326.50" stroke="#1155a8" stroke-width="2.6"/>
<line x1="210.52" y1="1342.50" x2="224.52" y2="1342.50" stroke="#1155a8" stroke-width="2.6"/>
<line x1="254.03" y1="1367.10" x2="254.03" y2="1383.10" stroke="#1155a8" stroke-width="2.4"/>
<line x1="247.03" y1="1367.10" x2="261.03" y2="1367.10" stroke="#1155a8" stroke-width="2.6"/>
<line x1="247.03" y1="1383.10" x2="261.03" y2="1383.10" stroke="#1155a8" stroke-width="2.6"/>
<line x1="290.54" y1="1372.00" x2="290.54" y2="1388.00" stroke="#1155a8" stroke-width="2.4"/>
<line x1="283.54" y1="1372.00" x2="297.54" y2="1372.00" stroke="#1155a8" stroke-width="2.6"/>
<line x1="283.54" y1="1388.00" x2="297.54" y2="1388.00" stroke="#1155a8" stroke-width="2.6"/>
<line x1="327.05" y1="1372.00" x2="327.05" y2="1388.00" stroke="#1155a8" stroke-width="2.4"/>
<line x1="320.05" y1="1372.00" x2="334.05" y2="1372.00" stroke="#1155a8" stroke-width="2.6"/>
<line x1="320.05" y1="1388.00" x2="334.05" y2="1388.00" stroke="#1155a8" stroke-width="2.6"/>
<line x1="363.56" y1="1242.30" x2="363.56" y2="1263.30" stroke="#1155a8" stroke-width="2.4"/>
<line x1="356.56" y1="1242.30" x2="370.56" y2="1242.30" stroke="#1155a8" stroke-width="2.6"/>
<line x1="356.56" y1="1263.30" x2="370.56" y2="1263.30" stroke="#1155a8" stroke-width="2.6"/>
<line x1="400.07" y1="1234.90" x2="400.07" y2="1255.90" stroke="#1155a8" stroke-width="2.4"/>
<line x1="393.07" y1="1234.90" x2="407.07" y2="1234.90" stroke="#1155a8" stroke-width="2.6"/>
<line x1="393.07" y1="1255.90" x2="407.07" y2="1255.90" stroke="#1155a8" stroke-width="2.6"/>
<line x1="436.58" y1="1230.60" x2="436.58" y2="1251.60" stroke="#1155a8" stroke-width="2.4"/>
<line x1="429.58" y1="1230.60" x2="443.58" y2="1230.60" stroke="#1155a8" stroke-width="2.6"/>
<line x1="429.58" y1="1251.60" x2="443.58" y2="1251.60" stroke="#1155a8" stroke-width="2.6"/>
<line x1="473.09" y1="1397.60" x2="473.09" y2="1411.60" stroke="#1155a8" stroke-width="2.4"/>
<line x1="466.09" y1="1397.60" x2="480.09" y2="1397.60" stroke="#1155a8" stroke-width="2.6"/>
<line x1="466.09" y1="1411.60" x2="480.09" y2="1411.60" stroke="#1155a8" stroke-width="2.6"/>
<line x1="509.60" y1="1400.80" x2="509.60" y2="1414.80" stroke="#1155a8" stroke-width="2.4"/>
<line x1="502.60" y1="1400.80" x2="516.60" y2="1400.80" stroke="#1155a8" stroke-width="2.6"/>
<line x1="502.60" y1="1414.80" x2="516.60" y2="1414.80" stroke="#1155a8" stroke-width="2.6"/>
<line x1="546.11" y1="1400.80" x2="546.11" y2="1414.80" stroke="#1155a8" stroke-width="2.4"/>
<line x1="539.11" y1="1400.80" x2="553.11" y2="1400.80" stroke="#1155a8" stroke-width="2.6"/>
<line x1="539.11" y1="1414.80" x2="553.11" y2="1414.80" stroke="#1155a8" stroke-width="2.6"/>
<polyline points="144.5,1333.0 181.0,1339.9 217.5,1334.5 254.0,1375.1 290.5,1380.0 327.1,1380.0 363.6,1252.8 400.1,1245.4 436.6,1241.1 473.1,1404.6 509.6,1407.8 546.1,1407.8" fill="none" stroke="#1155a8" stroke-width="2.6"/>
<circle cx="144.50" cy="1333.00" r="6.3" fill="#1155a8"/>
<circle cx="181.01" cy="1339.90" r="6.3" fill="#1155a8"/>
<circle cx="217.52" cy="1334.50" r="6.3" fill="#1155a8"/>
<circle cx="254.03" cy="1375.10" r="6.3" fill="#1155a8"/>
<circle cx="290.54" cy="1380.00" r="6.3" fill="#1155a8"/>
<circle cx="327.05" cy="1380.00" r="6.3" fill="#1155a8"/>
<circle cx="363.56" cy="1252.80" r="6.3" fill="#1155a8"/>
<circle cx="400.07" cy="1245.40" r="6.3" fill="#1155a8"/>
<circle cx="436.58" cy="1241.10" r="6.3" fill="#1155a8"/>
<circle cx="473.09" cy="1404.60" r="6.3" fill="#1155a8"/>
<circle cx="509.60" cy="1407.80" r="6.3" fill="#1155a8"/>
<circle cx="546.11" cy="1407.80" r="6.3" fill="#1155a8"/>
<line x1="144.50" y1="1382.10" x2="144.50" y2="1398.10" stroke="#1155a8" stroke-width="2.4"/>
<line x1="137.50" y1="1382.10" x2="151.50" y2="1382.10" stroke="#1155a8" stroke-width="2.6"/>
<line x1="137.50" y1="1398.10" x2="151.50" y2="1398.10" stroke="#1155a8" stroke-width="2.6"/>
<line x1="181.01" y1="1384.20" x2="181.01" y2="1400.20" stroke="#1155a8" stroke-width="2.4"/>
<line x1="174.01" y1="1384.20" x2="188.01" y2="1384.20" stroke="#1155a8" stroke-width="2.6"/>
<line x1="174.01" y1="1400.20" x2="188.01" y2="1400.20" stroke="#1155a8" stroke-width="2.6"/>
<line x1="217.52" y1="1381.70" x2="217.52" y2="1397.70" stroke="#1155a8" stroke-width="2.4"/>
<line x1="210.52" y1="1381.70" x2="224.52" y2="1381.70" stroke="#1155a8" stroke-width="2.6"/>
<line x1="210.52" y1="1397.70" x2="224.52" y2="1397.70" stroke="#1155a8" stroke-width="2.6"/>
<line x1="254.03" y1="1400.30" x2="254.03" y2="1416.30" stroke="#1155a8" stroke-width="2.4"/>
<line x1="247.03" y1="1400.30" x2="261.03" y2="1400.30" stroke="#1155a8" stroke-width="2.6"/>
<line x1="247.03" y1="1416.30" x2="261.03" y2="1416.30" stroke="#1155a8" stroke-width="2.6"/>
<line x1="290.54" y1="1405.60" x2="290.54" y2="1421.60" stroke="#1155a8" stroke-width="2.4"/>
<line x1="283.54" y1="1405.60" x2="297.54" y2="1405.60" stroke="#1155a8" stroke-width="2.6"/>
<line x1="283.54" y1="1421.60" x2="297.54" y2="1421.60" stroke="#1155a8" stroke-width="2.6"/>
<line x1="327.05" y1="1402.40" x2="327.05" y2="1418.40" stroke="#1155a8" stroke-width="2.4"/>
<line x1="320.05" y1="1402.40" x2="334.05" y2="1402.40" stroke="#1155a8" stroke-width="2.6"/>
<line x1="320.05" y1="1418.40" x2="334.05" y2="1418.40" stroke="#1155a8" stroke-width="2.6"/>
<line x1="363.56" y1="1325.70" x2="363.56" y2="1346.70" stroke="#1155a8" stroke-width="2.4"/>
<line x1="356.56" y1="1325.70" x2="370.56" y2="1325.70" stroke="#1155a8" stroke-width="2.6"/>
<line x1="356.56" y1="1346.70" x2="370.56" y2="1346.70" stroke="#1155a8" stroke-width="2.6"/>
<line x1="400.07" y1="1325.30" x2="400.07" y2="1346.30" stroke="#1155a8" stroke-width="2.4"/>
<line x1="393.07" y1="1325.30" x2="407.07" y2="1325.30" stroke="#1155a8" stroke-width="2.6"/>
<line x1="393.07" y1="1346.30" x2="407.07" y2="1346.30" stroke="#1155a8" stroke-width="2.6"/>
<line x1="436.58" y1="1321.40" x2="436.58" y2="1342.40" stroke="#1155a8" stroke-width="2.4"/>
<line x1="429.58" y1="1321.40" x2="443.58" y2="1321.40" stroke="#1155a8" stroke-width="2.6"/>
<line x1="429.58" y1="1342.40" x2="443.58" y2="1342.40" stroke="#1155a8" stroke-width="2.6"/>
<line x1="473.09" y1="1406.00" x2="473.09" y2="1420.00" stroke="#1155a8" stroke-width="2.4"/>
<line x1="466.09" y1="1406.00" x2="480.09" y2="1406.00" stroke="#1155a8" stroke-width="2.6"/>
<line x1="466.09" y1="1420.00" x2="480.09" y2="1420.00" stroke="#1155a8" stroke-width="2.6"/>
<line x1="509.60" y1="1411.00" x2="509.60" y2="1425.00" stroke="#1155a8" stroke-width="2.4"/>
<line x1="502.60" y1="1411.00" x2="516.60" y2="1411.00" stroke="#1155a8" stroke-width="2.6"/>
<line x1="502.60" y1="1425.00" x2="516.60" y2="1425.00" stroke="#1155a8" stroke-width="2.6"/>
<line x1="546.11" y1="1407.50" x2="546.11" y2="1421.50" stroke="#1155a8" stroke-width="2.4"/>
<line x1="539.11" y1="1407.50" x2="553.11" y2="1407.50" stroke="#1155a8" stroke-width="2.6"/>
<line x1="539.11" y1="1421.50" x2="553.11" y2="1421.50" stroke="#1155a8" stroke-width="2.6"/>
<polyline points="144.5,1390.1 181.0,1392.2 217.5,1389.7 254.0,1408.3 290.5,1413.6 327.1,1410.4 363.6,1336.2 400.1,1335.8 436.6,1331.9 473.1,1413.0 509.6,1418.0 546.1,1414.5" fill="none" stroke="#1155a8" stroke-width="2.6" stroke-dasharray="11 5"/>
<circle cx="144.50" cy="1390.10" r="6.3" fill="#1155a8"/>
<circle cx="181.01" cy="1392.20" r="6.3" fill="#1155a8"/>
<circle cx="217.52" cy="1389.70" r="6.3" fill="#1155a8"/>
<circle cx="254.03" cy="1408.30" r="6.3" fill="#1155a8"/>
<circle cx="290.54" cy="1413.60" r="6.3" fill="#1155a8"/>
<circle cx="327.05" cy="1410.40" r="6.3" fill="#1155a8"/>
<circle cx="363.56" cy="1336.20" r="6.3" fill="#1155a8"/>
<circle cx="400.07" cy="1335.80" r="6.3" fill="#1155a8"/>
<circle cx="436.58" cy="1331.90" r="6.3" fill="#1155a8"/>
<circle cx="473.09" cy="1413.00" r="6.3" fill="#1155a8"/>
<circle cx="509.60" cy="1418.00" r="6.3" fill="#1155a8"/>
<circle cx="546.11" cy="1414.50" r="6.3" fill="#1155a8"/>
<line x1="144.50" y1="1358.90" x2="144.50" y2="1372.10" stroke="#ff0000" stroke-width="2.4"/>
<line x1="137.50" y1="1358.90" x2="151.50" y2="1358.90" stroke="#ff0000" stroke-width="2.6"/>
<line x1="137.50" y1="1372.10" x2="151.50" y2="1372.10" stroke="#ff0000" stroke-width="2.6"/>
<line x1="181.01" y1="1370.70" x2="181.01" y2="1383.90" stroke="#ff0000" stroke-width="2.4"/>
<line x1="174.01" y1="1370.70" x2="188.01" y2="1370.70" stroke="#ff0000" stroke-width="2.6"/>
<line x1="174.01" y1="1383.90" x2="188.01" y2="1383.90" stroke="#ff0000" stroke-width="2.6"/>
<line x1="217.52" y1="1364.30" x2="217.52" y2="1377.50" stroke="#ff0000" stroke-width="2.4"/>
<line x1="210.52" y1="1364.30" x2="224.52" y2="1364.30" stroke="#ff0000" stroke-width="2.6"/>
<line x1="210.52" y1="1377.50" x2="224.52" y2="1377.50" stroke="#ff0000" stroke-width="2.6"/>
<line x1="254.03" y1="1395.20" x2="254.03" y2="1408.40" stroke="#ff0000" stroke-width="2.4"/>
<line x1="247.03" y1="1395.20" x2="261.03" y2="1395.20" stroke="#ff0000" stroke-width="2.6"/>
<line x1="247.03" y1="1408.40" x2="261.03" y2="1408.40" stroke="#ff0000" stroke-width="2.6"/>
<line x1="290.54" y1="1400.60" x2="290.54" y2="1413.80" stroke="#ff0000" stroke-width="2.4"/>
<line x1="283.54" y1="1400.60" x2="297.54" y2="1400.60" stroke="#ff0000" stroke-width="2.6"/>
<line x1="283.54" y1="1413.80" x2="297.54" y2="1413.80" stroke="#ff0000" stroke-width="2.6"/>
<line x1="327.05" y1="1398.40" x2="327.05" y2="1411.60" stroke="#ff0000" stroke-width="2.4"/>
<line x1="320.05" y1="1398.40" x2="334.05" y2="1398.40" stroke="#ff0000" stroke-width="2.6"/>
<line x1="320.05" y1="1411.60" x2="334.05" y2="1411.60" stroke="#ff0000" stroke-width="2.6"/>
<line x1="363.56" y1="1294.17" x2="363.56" y2="1316.23" stroke="#ff0000" stroke-width="2.4"/>
<line x1="356.56" y1="1294.17" x2="370.56" y2="1294.17" stroke="#ff0000" stroke-width="2.6"/>
<line x1="356.56" y1="1316.23" x2="370.56" y2="1316.23" stroke="#ff0000" stroke-width="2.6"/>
<line x1="400.07" y1="1286.07" x2="400.07" y2="1308.12" stroke="#ff0000" stroke-width="2.4"/>
<line x1="393.07" y1="1286.07" x2="407.07" y2="1286.07" stroke="#ff0000" stroke-width="2.6"/>
<line x1="393.07" y1="1308.12" x2="407.07" y2="1308.12" stroke="#ff0000" stroke-width="2.6"/>
<line x1="436.58" y1="1281.38" x2="436.58" y2="1303.43" stroke="#ff0000" stroke-width="2.4"/>
<line x1="429.58" y1="1281.38" x2="443.58" y2="1281.38" stroke="#ff0000" stroke-width="2.6"/>
<line x1="429.58" y1="1303.43" x2="443.58" y2="1303.43" stroke="#ff0000" stroke-width="2.6"/>
<line x1="473.09" y1="1412.40" x2="473.09" y2="1425.60" stroke="#ff0000" stroke-width="2.4"/>
<line x1="466.09" y1="1412.40" x2="480.09" y2="1412.40" stroke="#ff0000" stroke-width="2.6"/>
<line x1="466.09" y1="1425.60" x2="480.09" y2="1425.60" stroke="#ff0000" stroke-width="2.6"/>
<line x1="509.60" y1="1409.90" x2="509.60" y2="1423.10" stroke="#ff0000" stroke-width="2.4"/>
<line x1="502.60" y1="1409.90" x2="516.60" y2="1409.90" stroke="#ff0000" stroke-width="2.6"/>
<line x1="502.60" y1="1423.10" x2="516.60" y2="1423.10" stroke="#ff0000" stroke-width="2.6"/>
<line x1="546.11" y1="1409.90" x2="546.11" y2="1423.10" stroke="#ff0000" stroke-width="2.4"/>
<line x1="539.11" y1="1409.90" x2="553.11" y2="1409.90" stroke="#ff0000" stroke-width="2.6"/>
<line x1="539.11" y1="1423.10" x2="553.11" y2="1423.10" stroke="#ff0000" stroke-width="2.6"/>
<polyline points="144.5,1365.5 181.0,1377.3 217.5,1370.9 254.0,1401.8 290.5,1407.2 327.1,1405.0 363.6,1305.2 400.1,1297.1 436.6,1292.4 473.1,1419.0 509.6,1416.5 546.1,1416.5" fill="none" stroke="#ff0000" stroke-width="2.6" stroke-dasharray="11 5"/>
<rect x="138.20" y="1359.20" width="12.6" height="12.6" fill="#ff0000"/>
<rect x="174.71" y="1371.00" width="12.6" height="12.6" fill="#ff0000"/>
<rect x="211.22" y="1364.60" width="12.6" height="12.6" fill="#ff0000"/>
<rect x="247.73" y="1395.50" width="12.6" height="12.6" fill="#ff0000"/>
<rect x="284.24" y="1400.90" width="12.6" height="12.6" fill="#ff0000"/>
<rect x="320.75" y="1398.70" width="12.6" height="12.6" fill="#ff0000"/>
<rect x="357.26" y="1298.90" width="12.6" height="12.6" fill="#ff0000"/>
<rect x="393.77" y="1290.80" width="12.6" height="12.6" fill="#ff0000"/>
<rect x="430.28" y="1286.10" width="12.6" height="12.6" fill="#ff0000"/>
<rect x="466.79" y="1412.70" width="12.6" height="12.6" fill="#ff0000"/>
<rect x="503.30" y="1410.20" width="12.6" height="12.6" fill="#ff0000"/>
<rect x="539.81" y="1410.20" width="12.6" height="12.6" fill="#ff0000"/>
<line x1="144.50" y1="1330.00" x2="144.50" y2="1343.20" stroke="#ff0000" stroke-width="2.4"/>
<line x1="137.50" y1="1330.00" x2="151.50" y2="1330.00" stroke="#ff0000" stroke-width="2.6"/>
<line x1="137.50" y1="1343.20" x2="151.50" y2="1343.20" stroke="#ff0000" stroke-width="2.6"/>
<line x1="181.01" y1="1330.70" x2="181.01" y2="1343.90" stroke="#ff0000" stroke-width="2.4"/>
<line x1="174.01" y1="1330.70" x2="188.01" y2="1330.70" stroke="#ff0000" stroke-width="2.6"/>
<line x1="174.01" y1="1343.90" x2="188.01" y2="1343.90" stroke="#ff0000" stroke-width="2.6"/>
<line x1="217.52" y1="1326.80" x2="217.52" y2="1340.00" stroke="#ff0000" stroke-width="2.4"/>
<line x1="210.52" y1="1326.80" x2="224.52" y2="1326.80" stroke="#ff0000" stroke-width="2.6"/>
<line x1="210.52" y1="1340.00" x2="224.52" y2="1340.00" stroke="#ff0000" stroke-width="2.6"/>
<line x1="254.03" y1="1384.60" x2="254.03" y2="1397.80" stroke="#ff0000" stroke-width="2.4"/>
<line x1="247.03" y1="1384.60" x2="261.03" y2="1384.60" stroke="#ff0000" stroke-width="2.6"/>
<line x1="247.03" y1="1397.80" x2="261.03" y2="1397.80" stroke="#ff0000" stroke-width="2.6"/>
<line x1="290.54" y1="1389.90" x2="290.54" y2="1403.10" stroke="#ff0000" stroke-width="2.4"/>
<line x1="283.54" y1="1389.90" x2="297.54" y2="1389.90" stroke="#ff0000" stroke-width="2.6"/>
<line x1="283.54" y1="1403.10" x2="297.54" y2="1403.10" stroke="#ff0000" stroke-width="2.6"/>
<line x1="327.05" y1="1389.90" x2="327.05" y2="1403.10" stroke="#ff0000" stroke-width="2.4"/>
<line x1="320.05" y1="1389.90" x2="334.05" y2="1389.90" stroke="#ff0000" stroke-width="2.6"/>
<line x1="320.05" y1="1403.10" x2="334.05" y2="1403.10" stroke="#ff0000" stroke-width="2.6"/>
<line x1="363.56" y1="1223.55" x2="363.56" y2="1246.65" stroke="#ff0000" stroke-width="2.4"/>
<line x1="356.56" y1="1223.55" x2="370.56" y2="1223.55" stroke="#ff0000" stroke-width="2.6"/>
<line x1="356.56" y1="1246.65" x2="370.56" y2="1246.65" stroke="#ff0000" stroke-width="2.6"/>
<line x1="400.07" y1="1211.35" x2="400.07" y2="1234.45" stroke="#ff0000" stroke-width="2.4"/>
<line x1="393.07" y1="1211.35" x2="407.07" y2="1211.35" stroke="#ff0000" stroke-width="2.6"/>
<line x1="393.07" y1="1234.45" x2="407.07" y2="1234.45" stroke="#ff0000" stroke-width="2.6"/>
<line x1="436.58" y1="1207.05" x2="436.58" y2="1230.15" stroke="#ff0000" stroke-width="2.4"/>
<line x1="429.58" y1="1207.05" x2="443.58" y2="1207.05" stroke="#ff0000" stroke-width="2.6"/>
<line x1="429.58" y1="1230.15" x2="443.58" y2="1230.15" stroke="#ff0000" stroke-width="2.6"/>
<line x1="473.09" y1="1404.40" x2="473.09" y2="1417.60" stroke="#ff0000" stroke-width="2.4"/>
<line x1="466.09" y1="1404.40" x2="480.09" y2="1404.40" stroke="#ff0000" stroke-width="2.6"/>
<line x1="466.09" y1="1417.60" x2="480.09" y2="1417.60" stroke="#ff0000" stroke-width="2.6"/>
<line x1="509.60" y1="1402.90" x2="509.60" y2="1416.10" stroke="#ff0000" stroke-width="2.4"/>
<line x1="502.60" y1="1402.90" x2="516.60" y2="1402.90" stroke="#ff0000" stroke-width="2.6"/>
<line x1="502.60" y1="1416.10" x2="516.60" y2="1416.10" stroke="#ff0000" stroke-width="2.6"/>
<line x1="546.11" y1="1407.60" x2="546.11" y2="1420.80" stroke="#ff0000" stroke-width="2.4"/>
<line x1="539.11" y1="1407.60" x2="553.11" y2="1407.60" stroke="#ff0000" stroke-width="2.6"/>
<line x1="539.11" y1="1420.80" x2="553.11" y2="1420.80" stroke="#ff0000" stroke-width="2.6"/>
<polyline points="144.5,1336.6 181.0,1337.3 217.5,1333.4 254.0,1391.2 290.5,1396.5 327.1,1396.5 363.6,1235.1 400.1,1222.9 436.6,1218.6 473.1,1411.0 509.6,1409.5 546.1,1414.2" fill="none" stroke="#ff0000" stroke-width="2.6"/>
<rect x="138.20" y="1330.30" width="12.6" height="12.6" fill="#ff0000"/>
<rect x="174.71" y="1331.00" width="12.6" height="12.6" fill="#ff0000"/>
<rect x="211.22" y="1327.10" width="12.6" height="12.6" fill="#ff0000"/>
<rect x="247.73" y="1384.90" width="12.6" height="12.6" fill="#ff0000"/>
<rect x="284.24" y="1390.20" width="12.6" height="12.6" fill="#ff0000"/>
<rect x="320.75" y="1390.20" width="12.6" height="12.6" fill="#ff0000"/>
<rect x="357.26" y="1228.80" width="12.6" height="12.6" fill="#ff0000"/>
<rect x="393.77" y="1216.60" width="12.6" height="12.6" fill="#ff0000"/>
<rect x="430.28" y="1212.30" width="12.6" height="12.6" fill="#ff0000"/>
<rect x="466.79" y="1404.70" width="12.6" height="12.6" fill="#ff0000"/>
<rect x="503.30" y="1403.20" width="12.6" height="12.6" fill="#ff0000"/>
<rect x="539.81" y="1407.90" width="12.6" height="12.6" fill="#ff0000"/>
<line x1="127.20" y1="1177.10" x2="127.20" y2="1485.00" stroke="#000" stroke-width="3"/>
<line x1="121.80" y1="1483.50" x2="582.40" y2="1483.50" stroke="#000" stroke-width="3"/>
<line x1="121.80" y1="1483.50" x2="127.20" y2="1483.50" stroke="#000" stroke-width="3"/>
<text font-size="23" text-anchor="end" font-weight="bold" x="116.00" y="1491.50">0</text>
<line x1="121.80" y1="1381.87" x2="127.20" y2="1381.87" stroke="#000" stroke-width="3"/>
<text font-size="23" text-anchor="end" font-weight="bold" x="116.00" y="1389.87">25</text>
<line x1="121.80" y1="1280.23" x2="127.20" y2="1280.23" stroke="#000" stroke-width="3"/>
<text font-size="23" text-anchor="end" font-weight="bold" x="116.00" y="1288.23">50</text>
<line x1="121.80" y1="1178.60" x2="127.20" y2="1178.60" stroke="#000" stroke-width="3"/>
<text font-size="23" text-anchor="end" font-weight="bold" x="116.00" y="1186.60">75</text>
<line x1="142.80" y1="1483.50" x2="142.80" y2="1489.80" stroke="#000" stroke-width="3"/>
<text font-size="22.5" text-anchor="middle" font-weight="bold" x="142.80" y="1517.70">1</text>
<line x1="179.31" y1="1483.50" x2="179.31" y2="1489.80" stroke="#000" stroke-width="3"/>
<text font-size="22.5" text-anchor="middle" font-weight="bold" x="179.31" y="1517.70">2</text>
<line x1="215.82" y1="1483.50" x2="215.82" y2="1489.80" stroke="#000" stroke-width="3"/>
<text font-size="22.5" text-anchor="middle" font-weight="bold" x="215.82" y="1517.70">3</text>
<line x1="252.33" y1="1483.50" x2="252.33" y2="1489.80" stroke="#000" stroke-width="3"/>
<text font-size="22.5" text-anchor="middle" font-weight="bold" x="252.33" y="1517.70">4</text>
<line x1="288.84" y1="1483.50" x2="288.84" y2="1489.80" stroke="#000" stroke-width="3"/>
<text font-size="22.5" text-anchor="middle" font-weight="bold" x="288.84" y="1517.70">5</text>
<line x1="325.35" y1="1483.50" x2="325.35" y2="1489.80" stroke="#000" stroke-width="3"/>
<text font-size="22.5" text-anchor="middle" font-weight="bold" x="325.35" y="1517.70">6</text>
<line x1="361.86" y1="1483.50" x2="361.86" y2="1489.80" stroke="#000" stroke-width="3"/>
<text font-size="22.5" text-anchor="middle" font-weight="bold" x="361.86" y="1517.70">7</text>
<line x1="398.37" y1="1483.50" x2="398.37" y2="1489.80" stroke="#000" stroke-width="3"/>
<text font-size="22.5" text-anchor="middle" font-weight="bold" x="398.37" y="1517.70">8</text>
<line x1="434.88" y1="1483.50" x2="434.88" y2="1489.80" stroke="#000" stroke-width="3"/>
<text font-size="22.5" text-anchor="middle" font-weight="bold" x="434.88" y="1517.70">9</text>
<line x1="471.39" y1="1483.50" x2="471.39" y2="1489.80" stroke="#000" stroke-width="3"/>
<text font-size="22.5" text-anchor="middle" font-weight="bold" x="471.39" y="1517.70">10</text>
<line x1="507.90" y1="1483.50" x2="507.90" y2="1489.80" stroke="#000" stroke-width="3"/>
<text font-size="22.5" text-anchor="middle" font-weight="bold" x="507.90" y="1517.70">11</text>
<line x1="544.41" y1="1483.50" x2="544.41" y2="1489.80" stroke="#000" stroke-width="3"/>
<text font-size="22.5" text-anchor="middle" font-weight="bold" x="544.41" y="1517.70">12</text>
<line x1="580.92" y1="1483.50" x2="580.92" y2="1489.80" stroke="#000" stroke-width="3"/>
<text font-size="22.5" text-anchor="middle" font-weight="bold" x="580.92" y="1517.70">13</text>
<text font-size="28.3" text-anchor="middle" x="355.50" y="1557.50">Time (minutes)</text>
<text font-size="28" text-anchor="middle" textLength="340" lengthAdjust="spacingAndGlyphs" transform="translate(63.80,1329.70) rotate(-90)">OCR (pmol/min/µg protein)</text>
<line x1="536.00" y1="1201.40" x2="571.30" y2="1201.40" stroke="#1155a8" stroke-width="2.6"/>
<circle cx="553.80" cy="1201.40" r="6.3" fill="#1155a8"/>
<text font-size="20.2" x="588.40" y="1209.10">SC Control</text>
<line x1="536.00" y1="1227.10" x2="563.80" y2="1227.10" stroke="#1155a8" stroke-width="2.6"/>
<line x1="566.60" y1="1227.10" x2="571.30" y2="1227.10" stroke="#1155a8" stroke-width="2.6"/>
<circle cx="553.80" cy="1227.10" r="6.3" fill="#1155a8"/>
<text font-size="20.2" x="588.40" y="1234.80">SC Ethanol</text>
<line x1="536.00" y1="1253.40" x2="571.30" y2="1253.40" stroke="#ff0000" stroke-width="2.6"/>
<rect x="547.50" y="1247.10" width="12.6" height="12.6" fill="#ff0000"/>
<text font-size="20.2" x="588.40" y="1260.90">si<tspan font-style="italic">Csnk2a1</tspan> Control</text>
<line x1="536.00" y1="1279.70" x2="563.80" y2="1279.70" stroke="#ff0000" stroke-width="2.6"/>
<line x1="566.60" y1="1279.70" x2="571.30" y2="1279.70" stroke="#ff0000" stroke-width="2.6"/>
<rect x="547.50" y="1273.40" width="12.6" height="12.6" fill="#ff0000"/>
<text font-size="20.2" x="588.40" y="1287.10">si<tspan font-style="italic">Csnk2a1</tspan> Ethanol</text>
<rect x="910.30" y="1396.50" width="22.00" height="79.90" fill="#3b5499" stroke="#000" stroke-width="2.6" />
<rect x="942.40" y="1451.30" width="22.00" height="25.10" fill="url(#hb)" stroke="#000" stroke-width="2.6" />
<rect x="974.90" y="1384.80" width="21.50" height="91.60" fill="#f44336" stroke="#000" stroke-width="2.6" />
<rect x="1007.60" y="1429.70" width="20.90" height="46.70" fill="url(#hr)" stroke="#000" stroke-width="2.6" />
<rect x="1052.50" y="1428.60" width="20.90" height="47.80" fill="#3b5499" stroke="#000" stroke-width="2.6" />
<rect x="1084.50" y="1454.30" width="22.00" height="22.10" fill="url(#hb)" stroke="#000" stroke-width="2.6" />
<rect x="1116.60" y="1408.30" width="22.00" height="68.10" fill="#f44336" stroke="#000" stroke-width="2.6" />
<rect x="1148.60" y="1440.30" width="22.00" height="36.10" fill="url(#hr)" stroke="#000" stroke-width="2.6" />
<rect x="1193.50" y="1285.30" width="22.00" height="191.10" fill="#3b5499" stroke="#000" stroke-width="2.6" />
<rect x="1225.60" y="1384.80" width="22.00" height="91.60" fill="url(#hb)" stroke="#000" stroke-width="2.6" />
<rect x="1257.70" y="1249.00" width="22.00" height="227.40" fill="#f44336" stroke="#000" stroke-width="2.6" />
<rect x="1289.70" y="1344.10" width="22.40" height="132.30" fill="url(#hr)" stroke="#000" stroke-width="2.6" />
<line x1="899.40" y1="1217.40" x2="899.40" y2="1477.90" stroke="#000" stroke-width="3"/>
<line x1="894.00" y1="1476.40" x2="1323.70" y2="1476.40" stroke="#000" stroke-width="3"/>
<line x1="894.00" y1="1476.40" x2="899.40" y2="1476.40" stroke="#000" stroke-width="3"/>
<text font-size="24" text-anchor="end" font-weight="bold" x="888.30" y="1484.80">0</text>
<line x1="894.00" y1="1452.99" x2="899.40" y2="1452.99" stroke="#000" stroke-width="3"/>
<text font-size="24" text-anchor="end" font-weight="bold" x="888.30" y="1461.39">5</text>
<line x1="894.00" y1="1429.58" x2="899.40" y2="1429.58" stroke="#000" stroke-width="3"/>
<text font-size="24" text-anchor="end" font-weight="bold" x="888.30" y="1437.98">10</text>
<line x1="894.00" y1="1406.17" x2="899.40" y2="1406.17" stroke="#000" stroke-width="3"/>
<text font-size="24" text-anchor="end" font-weight="bold" x="888.30" y="1414.57">15</text>
<line x1="894.00" y1="1382.76" x2="899.40" y2="1382.76" stroke="#000" stroke-width="3"/>
<text font-size="24" text-anchor="end" font-weight="bold" x="888.30" y="1391.16">20</text>
<line x1="894.00" y1="1359.35" x2="899.40" y2="1359.35" stroke="#000" stroke-width="3"/>
<text font-size="24" text-anchor="end" font-weight="bold" x="888.30" y="1367.75">25</text>
<line x1="894.00" y1="1335.95" x2="899.40" y2="1335.95" stroke="#000" stroke-width="3"/>
<text font-size="24" text-anchor="end" font-weight="bold" x="888.30" y="1344.35">30</text>
<line x1="894.00" y1="1312.54" x2="899.40" y2="1312.54" stroke="#000" stroke-width="3"/>
<text font-size="24" text-anchor="end" font-weight="bold" x="888.30" y="1320.94">35</text>
<line x1="894.00" y1="1289.13" x2="899.40" y2="1289.13" stroke="#000" stroke-width="3"/>
<text font-size="24" text-anchor="end" font-weight="bold" x="888.30" y="1297.53">40</text>
<line x1="894.00" y1="1265.72" x2="899.40" y2="1265.72" stroke="#000" stroke-width="3"/>
<text font-size="24" text-anchor="end" font-weight="bold" x="888.30" y="1274.12">45</text>
<line x1="894.00" y1="1242.31" x2="899.40" y2="1242.31" stroke="#000" stroke-width="3"/>
<text font-size="24" text-anchor="end" font-weight="bold" x="888.30" y="1250.71">50</text>
<line x1="894.00" y1="1218.90" x2="899.40" y2="1218.90" stroke="#000" stroke-width="3"/>
<text font-size="24" text-anchor="end" font-weight="bold" x="888.30" y="1227.30">55</text>
<line x1="968.90" y1="1476.40" x2="968.90" y2="1482.00" stroke="#000" stroke-width="3"/>
<line x1="1111.00" y1="1476.40" x2="1111.00" y2="1482.00" stroke="#000" stroke-width="3"/>
<line x1="1252.10" y1="1476.40" x2="1252.10" y2="1482.00" stroke="#000" stroke-width="3"/>
<rect x="914.30" y="1219.90" width="25.70" height="14.00" fill="#3b5499" stroke="#000" stroke-width="2" />
<text font-size="19" x="953.90" y="1233.80">SC Control</text>
<rect x="914.30" y="1240.60" width="25.70" height="14.00" fill="url(#hb)" stroke="#000" stroke-width="2" />
<text font-size="19" x="953.90" y="1253.50">SC <tspan font-style="italic">Ethanol</tspan></text>
<rect x="914.30" y="1259.80" width="25.70" height="14.00" fill="#f44336" stroke="#000" stroke-width="2" />
<text font-size="19" x="953.90" y="1273.40">si<tspan font-style="italic">CsnK2a1</tspan> Control</text>
<rect x="914.30" y="1280.40" width="25.70" height="14.00" fill="url(#hr)" stroke="#000" stroke-width="2" />
<text font-size="19" x="953.90" y="1293.70">si<tspan font-style="italic">CsnK2a1</tspan> Ethanol</text>
<circle cx="915.40" cy="1400.60" r="6" fill="#000"/>
<circle cx="921.80" cy="1389.90" r="6" fill="#000"/>
<circle cx="928.30" cy="1393.00" r="6" fill="#000"/>
<circle cx="1056.50" cy="1430.50" r="6" fill="#000"/>
<circle cx="1062.90" cy="1423.00" r="6" fill="#000"/>
<circle cx="1069.80" cy="1426.20" r="6" fill="#000"/>
<circle cx="1197.60" cy="1288.30" r="6" fill="#000"/>
<circle cx="1204.60" cy="1277.60" r="6" fill="#000"/>
<circle cx="1211.50" cy="1281.90" r="6" fill="#000"/>
<rect x="941.50" y="1449.00" width="12" height="12" fill="#000"/>
<rect x="947.90" y="1437.30" width="12" height="12" fill="#000"/>
<rect x="954.30" y="1440.50" width="12" height="12" fill="#000"/>
<rect x="1082.60" y="1451.20" width="12" height="12" fill="#000"/>
<rect x="1090.00" y="1447.00" width="12" height="12" fill="#000"/>
<rect x="1096.50" y="1448.00" width="12" height="12" fill="#000"/>
<rect x="1224.70" y="1367.80" width="12" height="12" fill="#000"/>
<rect x="1224.70" y="1384.90" width="12" height="12" fill="#000"/>
<rect x="1237.50" y="1376.00" width="12" height="12" fill="#000"/>
<path d="M973.10,1392.55 L986.10,1392.55 L979.60,1380.85 Z" fill="#000"/>
<path d="M979.10,1385.05 L992.10,1385.05 L985.60,1373.35 Z" fill="#000"/>
<path d="M984.80,1391.45 L997.80,1391.45 L991.30,1379.75 Z" fill="#000"/>
<path d="M1114.10,1419.25 L1127.10,1419.25 L1120.60,1407.55 Z" fill="#000"/>
<path d="M1121.00,1407.45 L1134.00,1407.45 L1127.50,1395.75 Z" fill="#000"/>
<path d="M1126.90,1410.65 L1139.90,1410.65 L1133.40,1398.95 Z" fill="#000"/>
<path d="M1255.60,1243.35 L1268.60,1243.35 L1262.10,1231.65 Z" fill="#000"/>
<path d="M1269.10,1251.05 L1282.10,1251.05 L1275.60,1239.35 Z" fill="#000"/>
<path d="M1262.70,1264.25 L1275.70,1264.25 L1269.20,1252.55 Z" fill="#000"/>
<path d="M1005.10,1410.75 L1018.10,1410.75 L1011.60,1422.45 Z" fill="#000"/>
<path d="M1005.10,1429.95 L1018.10,1429.95 L1011.60,1441.65 Z" fill="#000"/>
<path d="M1018.00,1420.35 L1031.00,1420.35 L1024.50,1432.05 Z" fill="#000"/>
<path d="M1146.20,1436.35 L1159.20,1436.35 L1152.70,1448.05 Z" fill="#000"/>
<path d="M1153.00,1428.95 L1166.00,1428.95 L1159.50,1440.65 Z" fill="#000"/>
<path d="M1160.10,1432.15 L1173.10,1432.15 L1166.60,1443.85 Z" fill="#000"/>
<path d="M1287.30,1339.15 L1300.30,1339.15 L1293.80,1350.85 Z" fill="#000"/>
<path d="M1294.80,1330.55 L1307.80,1330.55 L1301.30,1342.25 Z" fill="#000"/>
<path d="M1301.20,1336.95 L1314.20,1336.95 L1307.70,1348.65 Z" fill="#000"/>
<line x1="1225.00" y1="1383.00" x2="1243.00" y2="1383.00" stroke="#fff" stroke-width="1.6"/>
<line x1="1258.00" y1="1243.00" x2="1270.00" y2="1243.00" stroke="#fff" stroke-width="1.6"/>
<path d="M949.80,1362.00 V1356.00 H1016.50 V1362.00" stroke="#000" stroke-width="2.4" fill="none" />
<text font-size="25.3" text-anchor="middle" x="983.80" y="1358.91">*</text>
<path d="M1091.50,1385.50 V1379.50 H1158.50 V1385.50" stroke="#000" stroke-width="2.4" fill="none" />
<text font-size="25.3" text-anchor="middle" x="1126.00" y="1381.41">*</text>
<path d="M1231.30,1221.00 V1215.00 H1297.50 V1221.00" stroke="#000" stroke-width="2.4" fill="none" />
<text font-size="25.3" text-anchor="middle" x="1265.00" y="1216.91">*</text>
<text font-size="25.3" text-anchor="middle" x="951.80" y="1437.91">*</text>
<text font-size="25.3" text-anchor="middle" x="1017.00" y="1410.91">*</text>
<text font-size="25.3" text-anchor="middle" x="1096.00" y="1450.91">*</text>
<text font-size="25.3" text-anchor="middle" x="1159.00" y="1431.91">*</text>
<text font-size="25.3" text-anchor="middle" x="1235.40" y="1368.41">*</text>
<text font-size="25.3" text-anchor="middle" x="1300.20" y="1330.91">*</text>
<text font-size="24.2" text-anchor="middle" x="966.80" y="1506.80">Basal</text>
<text font-size="24.2" text-anchor="middle" x="966.00" y="1536.80">respiration</text>
<text font-size="24.2" text-anchor="middle" x="1106.80" y="1508.30">ATP</text>
<text font-size="24.2" text-anchor="middle" x="1106.30" y="1538.80">production</text>
<text font-size="24.2" text-anchor="middle" x="1251.50" y="1508.30">Max. capacity</text>
<text font-size="28.5" text-anchor="middle" textLength="345" lengthAdjust="spacingAndGlyphs" transform="translate(837.40,1346.80) rotate(-90)">OCR (pmol/min/µg protein)</text>
<text font-size="44" x="44.00" y="1626.00">j</text>
<rect x="212.60" y="1684.10" width="32.00" height="219.50" fill="#3b5499" stroke="#000" stroke-width="2.2" />
<rect x="254.70" y="1785.10" width="32.20" height="118.50" fill="#3b5499" stroke="#000" stroke-width="2.2" />
<rect x="313.60" y="1701.50" width="32.20" height="202.10" fill="#f44336" stroke="#000" stroke-width="2.2" />
<rect x="355.70" y="1740.90" width="32.20" height="162.70" fill="#f44336" stroke="#000" stroke-width="2.2" />
<line x1="200.00" y1="1626.50" x2="200.00" y2="1904.80" stroke="#000" stroke-width="2.4"/>
<line x1="191.80" y1="1903.60" x2="400.30" y2="1903.60" stroke="#000" stroke-width="2.4"/>
<line x1="191.80" y1="1903.60" x2="200.00" y2="1903.60" stroke="#000" stroke-width="2.4"/>
<text font-size="22.5" text-anchor="end" font-weight="bold" x="188.30" y="1911.40">0</text>
<line x1="191.80" y1="1848.42" x2="200.00" y2="1848.42" stroke="#000" stroke-width="2.4"/>
<text font-size="22.5" text-anchor="end" font-weight="bold" x="188.30" y="1856.22">25</text>
<line x1="191.80" y1="1793.24" x2="200.00" y2="1793.24" stroke="#000" stroke-width="2.4"/>
<text font-size="22.5" text-anchor="end" font-weight="bold" x="188.30" y="1801.04">50</text>
<line x1="191.80" y1="1738.06" x2="200.00" y2="1738.06" stroke="#000" stroke-width="2.4"/>
<text font-size="22.5" text-anchor="end" font-weight="bold" x="188.30" y="1745.86">75</text>
<line x1="191.80" y1="1682.88" x2="200.00" y2="1682.88" stroke="#000" stroke-width="2.4"/>
<text font-size="22.5" text-anchor="end" font-weight="bold" x="188.30" y="1690.68">100</text>
<line x1="191.80" y1="1627.70" x2="200.00" y2="1627.70" stroke="#000" stroke-width="2.4"/>
<text font-size="22.5" text-anchor="end" font-weight="bold" x="188.30" y="1635.50">125</text>
<line x1="228.40" y1="1903.60" x2="228.40" y2="1911.60" stroke="#000" stroke-width="2.4"/>
<line x1="270.60" y1="1903.60" x2="270.60" y2="1911.60" stroke="#000" stroke-width="2.4"/>
<line x1="329.50" y1="1903.60" x2="329.50" y2="1911.60" stroke="#000" stroke-width="2.4"/>
<line x1="371.60" y1="1903.60" x2="371.60" y2="1911.60" stroke="#000" stroke-width="2.4"/>
<line x1="228.40" y1="1647.40" x2="228.40" y2="1719.10" stroke="#000" stroke-width="2.2"/>
<line x1="219.40" y1="1647.40" x2="237.40" y2="1647.40" stroke="#000" stroke-width="2.2"/>
<line x1="219.40" y1="1719.10" x2="237.40" y2="1719.10" stroke="#000" stroke-width="2.2"/>
<line x1="270.60" y1="1781.50" x2="270.60" y2="1786.50" stroke="#000" stroke-width="2.2"/>
<line x1="263.60" y1="1781.50" x2="277.60" y2="1781.50" stroke="#000" stroke-width="2.2"/>
<line x1="263.60" y1="1786.50" x2="277.60" y2="1786.50" stroke="#000" stroke-width="2.2"/>
<line x1="329.40" y1="1681.60" x2="329.40" y2="1719.10" stroke="#000" stroke-width="2.2"/>
<line x1="320.40" y1="1681.60" x2="338.40" y2="1681.60" stroke="#000" stroke-width="2.2"/>
<line x1="320.40" y1="1719.10" x2="338.40" y2="1719.10" stroke="#000" stroke-width="2.2"/>
<line x1="371.40" y1="1729.20" x2="371.40" y2="1750.40" stroke="#000" stroke-width="2.2"/>
<line x1="362.40" y1="1729.20" x2="380.40" y2="1729.20" stroke="#000" stroke-width="2.2"/>
<line x1="362.40" y1="1750.40" x2="380.40" y2="1750.40" stroke="#000" stroke-width="2.2"/>
<circle cx="228.40" cy="1633.00" r="5.6" fill="#000"/>
<circle cx="228.40" cy="1665.00" r="5.6" fill="#000"/>
<circle cx="228.40" cy="1752.80" r="5.6" fill="#000"/>
<circle cx="262.00" cy="1778.80" r="5.6" fill="#000"/>
<circle cx="270.40" cy="1790.00" r="5.6" fill="#000"/>
<circle cx="279.30" cy="1782.80" r="5.6" fill="#000"/>
<rect x="323.80" y="1665.40" width="11.2" height="11.2" fill="#000"/>
<rect x="323.80" y="1689.40" width="11.2" height="11.2" fill="#000"/>
<rect x="323.80" y="1730.40" width="11.2" height="11.2" fill="#000"/>
<rect x="366.60" y="1715.40" width="11.2" height="11.2" fill="#000"/>
<rect x="357.90" y="1750.80" width="11.2" height="11.2" fill="#000"/>
<rect x="375.40" y="1738.80" width="11.2" height="11.2" fill="#000"/>
<path d="M225.80,1621.90 V1616.40 H272.50 V1621.90" stroke="#000" stroke-width="2.2" fill="none" />
<text font-size="24.1" text-anchor="middle" x="250.00" y="1617.83">*</text>
<path d="M264.70,1600.30 V1594.30 H369.50 V1600.30" stroke="#000" stroke-width="2.2" fill="none" />
<text font-size="24.1" text-anchor="middle" x="316.10" y="1595.83">*</text>
<text font-size="26" text-anchor="middle" transform="translate(109.30,1764.20) rotate(-90)">ATP levels</text>
<text font-size="26" text-anchor="middle" transform="translate(141.80,1764.20) rotate(-90)">(% of control)</text>
<text font-size="27.3" text-anchor="end" transform="translate(235.20,1932.60) rotate(-45)">Control</text>
<text font-size="27.3" text-anchor="end" transform="translate(277.40,1932.60) rotate(-45)">Ethanol</text>
<text font-size="27.3" text-anchor="end" transform="translate(336.30,1932.60) rotate(-45)">Control</text>
<text font-size="27.3" text-anchor="end" transform="translate(378.40,1932.60) rotate(-45)">Ethanol</text>
<text font-size="44" x="494.00" y="1626.80">k</text>
<rect x="677.00" y="1710.60" width="32.20" height="193.00" fill="#3b5499" stroke="#000" stroke-width="2.2" />
<rect x="719.10" y="1669.70" width="31.40" height="233.90" fill="#3b5499" stroke="#000" stroke-width="2.2" />
<rect x="777.30" y="1732.20" width="31.40" height="171.40" fill="#f44336" stroke="#000" stroke-width="2.2" />
<rect x="818.40" y="1702.10" width="31.90" height="201.50" fill="#f44336" stroke="#000" stroke-width="2.2" />
<line x1="665.00" y1="1630.80" x2="665.00" y2="1904.80" stroke="#000" stroke-width="2.4"/>
<line x1="657.00" y1="1903.60" x2="862.30" y2="1903.60" stroke="#000" stroke-width="2.4"/>
<line x1="656.80" y1="1903.60" x2="665.00" y2="1903.60" stroke="#000" stroke-width="2.4"/>
<text font-size="22.5" text-anchor="end" font-weight="bold" x="653.30" y="1911.40">0</text>
<line x1="656.80" y1="1864.80" x2="665.00" y2="1864.80" stroke="#000" stroke-width="2.4"/>
<text font-size="22.5" text-anchor="end" font-weight="bold" x="653.30" y="1872.60">20</text>
<line x1="656.80" y1="1826.00" x2="665.00" y2="1826.00" stroke="#000" stroke-width="2.4"/>
<text font-size="22.5" text-anchor="end" font-weight="bold" x="653.30" y="1833.80">40</text>
<line x1="656.80" y1="1787.20" x2="665.00" y2="1787.20" stroke="#000" stroke-width="2.4"/>
<text font-size="22.5" text-anchor="end" font-weight="bold" x="653.30" y="1795.00">60</text>
<line x1="656.80" y1="1748.40" x2="665.00" y2="1748.40" stroke="#000" stroke-width="2.4"/>
<text font-size="22.5" text-anchor="end" font-weight="bold" x="653.30" y="1756.20">80</text>
<line x1="656.80" y1="1709.60" x2="665.00" y2="1709.60" stroke="#000" stroke-width="2.4"/>
<text font-size="22.5" text-anchor="end" font-weight="bold" x="653.30" y="1717.40">100</text>
<line x1="656.80" y1="1670.80" x2="665.00" y2="1670.80" stroke="#000" stroke-width="2.4"/>
<text font-size="22.5" text-anchor="end" font-weight="bold" x="653.30" y="1678.60">120</text>
<line x1="656.80" y1="1632.00" x2="665.00" y2="1632.00" stroke="#000" stroke-width="2.4"/>
<text font-size="22.5" text-anchor="end" font-weight="bold" x="653.30" y="1639.80">140</text>
<line x1="692.90" y1="1903.60" x2="692.90" y2="1911.60" stroke="#000" stroke-width="2.4"/>
<line x1="734.80" y1="1903.60" x2="734.80" y2="1911.60" stroke="#000" stroke-width="2.4"/>
<line x1="792.70" y1="1903.60" x2="792.70" y2="1911.60" stroke="#000" stroke-width="2.4"/>
<line x1="834.20" y1="1903.60" x2="834.20" y2="1911.60" stroke="#000" stroke-width="2.4"/>
<line x1="734.80" y1="1658.50" x2="734.80" y2="1679.40" stroke="#000" stroke-width="2.2"/>
<line x1="725.20" y1="1658.50" x2="744.40" y2="1658.50" stroke="#000" stroke-width="2.2"/>
<line x1="725.20" y1="1679.40" x2="744.40" y2="1679.40" stroke="#000" stroke-width="2.2"/>
<line x1="834.60" y1="1695.50" x2="834.60" y2="1706.50" stroke="#000" stroke-width="2.2"/>
<line x1="826.10" y1="1695.50" x2="843.10" y2="1695.50" stroke="#000" stroke-width="2.2"/>
<line x1="826.10" y1="1706.50" x2="843.10" y2="1706.50" stroke="#000" stroke-width="2.2"/>
<line x1="792.70" y1="1727.50" x2="792.70" y2="1735.50" stroke="#000" stroke-width="2.2"/>
<line x1="784.20" y1="1727.50" x2="801.20" y2="1727.50" stroke="#000" stroke-width="2.2"/>
<line x1="784.20" y1="1735.50" x2="801.20" y2="1735.50" stroke="#000" stroke-width="2.2"/>
<line x1="692.90" y1="1707.80" x2="692.90" y2="1711.50" stroke="#000" stroke-width="2.2"/>
<line x1="685.90" y1="1707.80" x2="699.90" y2="1707.80" stroke="#000" stroke-width="2.2"/>
<line x1="685.90" y1="1711.50" x2="699.90" y2="1711.50" stroke="#000" stroke-width="2.2"/>
<circle cx="684.30" cy="1703.50" r="5.6" fill="#000"/>
<circle cx="693.90" cy="1713.00" r="5.6" fill="#000"/>
<circle cx="702.30" cy="1713.00" r="5.6" fill="#000"/>
<circle cx="734.80" cy="1650.60" r="5.6" fill="#000"/>
<circle cx="743.20" cy="1671.00" r="5.6" fill="#000"/>
<circle cx="726.40" cy="1685.40" r="5.6" fill="#000"/>
<rect x="779.00" y="1718.40" width="11.2" height="11.2" fill="#000"/>
<rect x="795.40" y="1723.10" width="11.2" height="11.2" fill="#000"/>
<rect x="786.90" y="1732.70" width="11.2" height="11.2" fill="#000"/>
<rect x="829.00" y="1684.20" width="11.2" height="11.2" fill="#000"/>
<rect x="820.60" y="1701.40" width="11.2" height="11.2" fill="#000"/>
<rect x="837.40" y="1700.40" width="11.2" height="11.2" fill="#000"/>
<path d="M685.80,1621.90 V1616.40 H732.20 V1621.90" stroke="#000" stroke-width="2.2" fill="none" />
<text font-size="24.1" text-anchor="middle" x="710.30" y="1617.83">*</text>
<path d="M725.50,1594.30 V1588.30 H829.60 V1594.30" stroke="#000" stroke-width="2.2" fill="none" />
<text font-size="24.1" text-anchor="middle" x="776.90" y="1590.33">*</text>
<path d="M791.60,1621.90 V1616.40 H838.70 V1621.90" stroke="#000" stroke-width="2.2" fill="none" />
<text font-size="24.1" text-anchor="middle" x="816.60" y="1617.83">*</text>
<text font-size="26" text-anchor="middle" transform="translate(559.20,1766.00) rotate(-90)">mROS</text>
<text font-size="26" text-anchor="middle" transform="translate(591.70,1766.00) rotate(-90)">(% of control)</text>
<text font-size="26.6" text-anchor="end" transform="translate(700.10,1932.60) rotate(-45)">Control</text>
<text font-size="26.6" text-anchor="end" transform="translate(742.00,1932.60) rotate(-45)">Ethanol</text>
<text font-size="26.6" text-anchor="end" transform="translate(799.90,1932.60) rotate(-45)">Control</text>
<text font-size="26.6" text-anchor="end" transform="translate(841.40,1932.60) rotate(-45)">Ethanol</text>
<text font-size="44" x="966.50" y="1627.00">l</text>
<rect x="1118.60" y="1789.00" width="31.00" height="109.30" fill="#3b5499" stroke="#000" stroke-width="2.2" />
<rect x="1158.80" y="1700.20" width="31.00" height="198.10" fill="#3b5499" stroke="#000" stroke-width="2.2" />
<rect x="1214.30" y="1799.60" width="30.80" height="98.70" fill="#f44336" stroke="#000" stroke-width="2.2" />
<rect x="1254.50" y="1759.40" width="31.00" height="138.90" fill="#f44336" stroke="#000" stroke-width="2.2" />
<line x1="1106.70" y1="1634.20" x2="1106.70" y2="1899.50" stroke="#000" stroke-width="2.4"/>
<line x1="1098.80" y1="1898.30" x2="1297.90" y2="1898.30" stroke="#000" stroke-width="2.4"/>
<line x1="1098.50" y1="1898.30" x2="1106.70" y2="1898.30" stroke="#000" stroke-width="2.4"/>
<text font-size="22.5" text-anchor="end" font-weight="bold" x="1095.00" y="1906.10">0</text>
<line x1="1098.50" y1="1860.74" x2="1106.70" y2="1860.74" stroke="#000" stroke-width="2.4"/>
<text font-size="22.5" text-anchor="end" font-weight="bold" x="1095.00" y="1868.54">50</text>
<line x1="1098.50" y1="1823.19" x2="1106.70" y2="1823.19" stroke="#000" stroke-width="2.4"/>
<text font-size="22.5" text-anchor="end" font-weight="bold" x="1095.00" y="1830.99">100</text>
<line x1="1098.50" y1="1785.63" x2="1106.70" y2="1785.63" stroke="#000" stroke-width="2.4"/>
<text font-size="22.5" text-anchor="end" font-weight="bold" x="1095.00" y="1793.43">150</text>
<line x1="1098.50" y1="1748.07" x2="1106.70" y2="1748.07" stroke="#000" stroke-width="2.4"/>
<text font-size="22.5" text-anchor="end" font-weight="bold" x="1095.00" y="1755.87">200</text>
<line x1="1098.50" y1="1710.51" x2="1106.70" y2="1710.51" stroke="#000" stroke-width="2.4"/>
<text font-size="22.5" text-anchor="end" font-weight="bold" x="1095.00" y="1718.31">250</text>
<line x1="1098.50" y1="1672.96" x2="1106.70" y2="1672.96" stroke="#000" stroke-width="2.4"/>
<text font-size="22.5" text-anchor="end" font-weight="bold" x="1095.00" y="1680.76">300</text>
<line x1="1098.50" y1="1635.40" x2="1106.70" y2="1635.40" stroke="#000" stroke-width="2.4"/>
<text font-size="22.5" text-anchor="end" font-weight="bold" x="1095.00" y="1643.20">350</text>
<line x1="1133.80" y1="1898.30" x2="1133.80" y2="1906.30" stroke="#000" stroke-width="2.4"/>
<line x1="1174.20" y1="1898.30" x2="1174.20" y2="1906.30" stroke="#000" stroke-width="2.4"/>
<line x1="1229.60" y1="1898.30" x2="1229.60" y2="1906.30" stroke="#000" stroke-width="2.4"/>
<line x1="1270.00" y1="1898.30" x2="1270.00" y2="1906.30" stroke="#000" stroke-width="2.4"/>
<line x1="1174.00" y1="1686.60" x2="1174.00" y2="1712.40" stroke="#000" stroke-width="2.2"/>
<line x1="1164.60" y1="1686.60" x2="1183.40" y2="1686.60" stroke="#000" stroke-width="2.2"/>
<line x1="1164.60" y1="1712.40" x2="1183.40" y2="1712.40" stroke="#000" stroke-width="2.2"/>
<line x1="1229.60" y1="1792.50" x2="1229.60" y2="1805.70" stroke="#000" stroke-width="2.2"/>
<line x1="1220.60" y1="1792.50" x2="1238.60" y2="1792.50" stroke="#000" stroke-width="2.2"/>
<line x1="1220.60" y1="1805.70" x2="1238.60" y2="1805.70" stroke="#000" stroke-width="2.2"/>
<line x1="1270.00" y1="1753.30" x2="1270.00" y2="1763.30" stroke="#000" stroke-width="2.2"/>
<line x1="1261.00" y1="1753.30" x2="1279.00" y2="1753.30" stroke="#000" stroke-width="2.2"/>
<line x1="1261.00" y1="1763.30" x2="1279.00" y2="1763.30" stroke="#000" stroke-width="2.2"/>
<line x1="1133.80" y1="1785.50" x2="1133.80" y2="1790.30" stroke="#000" stroke-width="2.2"/>
<line x1="1126.80" y1="1785.50" x2="1140.80" y2="1785.50" stroke="#000" stroke-width="2.2"/>
<line x1="1126.80" y1="1790.30" x2="1140.80" y2="1790.30" stroke="#000" stroke-width="2.2"/>
<circle cx="1125.50" cy="1787.70" r="5.6" fill="#000"/>
<circle cx="1129.60" cy="1792.50" r="5.6" fill="#000"/>
<circle cx="1138.00" cy="1791.30" r="5.6" fill="#000"/>
<circle cx="1141.60" cy="1782.80" r="5.6" fill="#000"/>
<circle cx="1174.00" cy="1665.70" r="5.6" fill="#000"/>
<circle cx="1173.60" cy="1696.30" r="5.6" fill="#000"/>
<circle cx="1181.70" cy="1710.00" r="5.6" fill="#000"/>
<circle cx="1166.10" cy="1726.30" r="5.6" fill="#000"/>
<rect x="1232.20" y="1777.20" width="11.2" height="11.2" fill="#000"/>
<rect x="1215.80" y="1791.00" width="11.2" height="11.2" fill="#000"/>
<rect x="1225.00" y="1792.90" width="11.2" height="11.2" fill="#000"/>
<rect x="1224.20" y="1810.90" width="11.2" height="11.2" fill="#000"/>
<rect x="1264.20" y="1737.60" width="11.2" height="11.2" fill="#000"/>
<rect x="1255.00" y="1751.50" width="11.2" height="11.2" fill="#000"/>
<rect x="1264.60" y="1761.10" width="11.2" height="11.2" fill="#000"/>
<rect x="1272.30" y="1761.10" width="11.2" height="11.2" fill="#000"/>
<path d="M1127.40,1652.70 V1647.20 H1171.90 V1652.70" stroke="#000" stroke-width="2.2" fill="none" />
<text font-size="24.1" text-anchor="middle" x="1150.00" y="1648.83">*</text>
<path d="M1165.20,1625.50 V1619.50 H1265.10 V1625.50" stroke="#000" stroke-width="2.2" fill="none" />
<text font-size="24.1" text-anchor="middle" x="1214.20" y="1621.33">*</text>
<path d="M1229.20,1652.70 V1647.20 H1273.60 V1652.70" stroke="#000" stroke-width="2.2" fill="none" />
<text font-size="24.1" text-anchor="middle" x="1252.20" y="1648.83">*</text>
<text font-size="25" text-anchor="middle" transform="translate(1005.70,1766.00) rotate(-90)">Triglycerides</text>
<text font-size="25" text-anchor="middle" transform="translate(1037.00,1766.60) rotate(-90)">(<tspan font-style="italic">µ</tspan>mol/mg of protein)</text>
<text font-size="26.2" text-anchor="end" transform="translate(1141.30,1925.80) rotate(-45)">Control</text>
<text font-size="26.2" text-anchor="end" transform="translate(1181.70,1925.80) rotate(-45)">Ethanol</text>
<text font-size="26.2" text-anchor="end" transform="translate(1237.10,1925.80) rotate(-45)">Control</text>
<text font-size="26.2" text-anchor="end" transform="translate(1277.50,1925.80) rotate(-45)">Ethanol</text>
<rect x="1320.00" y="1636.60" width="30.00" height="17.00" fill="#3b5499" stroke="#000" stroke-width="2" />
<rect x="1320.00" y="1658.90" width="30.00" height="17.00" fill="#f44336" stroke="#000" stroke-width="2" />
<text font-size="22" textLength="28" lengthAdjust="spacingAndGlyphs" x="1364.70" y="1652.00">SC</text>
<text font-size="22" font-style="italic" textLength="98.5" lengthAdjust="spacingAndGlyphs" x="1364.70" y="1674.40">siCsnk2a1</text>
</svg>
</body></html>
